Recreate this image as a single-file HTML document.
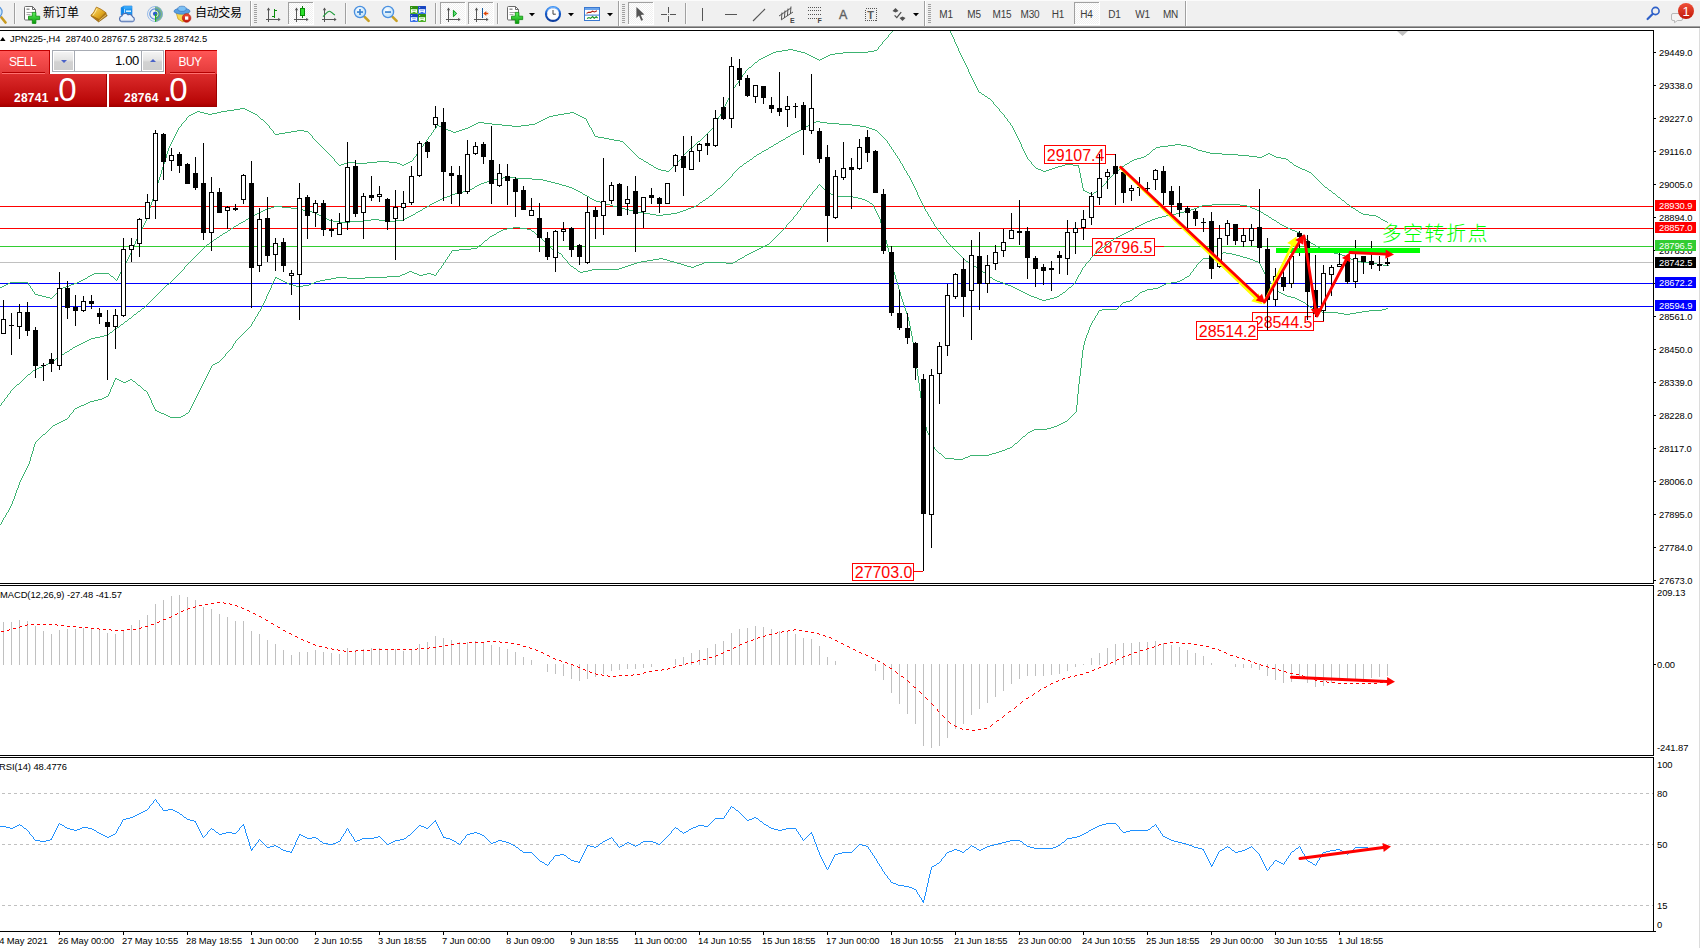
<!DOCTYPE html>
<html lang="zh"><head><meta charset="utf-8"><title>JPN225-,H4</title>
<style>
html,body{margin:0;padding:0;background:#fff;}
body{width:1700px;height:948px;overflow:hidden;position:relative;font-family:"Liberation Sans", "Noto Sans CJK SC", sans-serif;}
#chart{position:absolute;left:0;top:0;}
#tb{position:absolute;left:0;top:0;width:1700px;height:26px;background:#f0f0f0;border-bottom:1px solid #a0a0a0;box-shadow:0 1px 0 #696969;}
#tb svg{position:absolute;left:0;top:0;}
#winedge{position:absolute;left:1699px;top:28px;width:1px;height:920px;background:#dcdcdc;}
</style></head><body>
<svg id="chart" width="1700" height="948" viewBox="0 0 1700 948" font-family='"Liberation Sans", "Noto Sans CJK SC", sans-serif'><g shape-rendering="crispEdges">
<rect x="0" y="206" width="1653" height="1" fill="#ff0000"/>
<rect x="0" y="228" width="1653" height="1" fill="#ff0000"/>
<rect x="0" y="246" width="1653" height="1" fill="#32cd32"/>
<rect x="0" y="262" width="1653" height="1" fill="#c0c0c0"/>
<rect x="0" y="283" width="1653" height="1" fill="#0000ff"/>
<rect x="0" y="306" width="1653" height="1" fill="#0000ff"/>
</g>
<rect x="1044.5" y="145.5" width="61" height="18" fill="#fff" stroke="#ff0000" stroke-width="1" shape-rendering="crispEdges"/>
<text x="1046.8" y="160.6" font-size="16" fill="#ff0000" textLength="57.6" lengthAdjust="spacing">29107.4</text>
<rect x="1106" y="154" width="9" height="1" fill="#ff0000" shape-rendering="crispEdges"/>
<rect x="1092.5" y="238.5" width="62" height="17" fill="#fff" stroke="#ff0000" stroke-width="1" shape-rendering="crispEdges"/>
<text x="1094.8" y="252.6" font-size="16" fill="#ff0000" textLength="57.6" lengthAdjust="spacing">28796.5</text>
<rect x="1154" y="246" width="10" height="1" fill="#ff0000" shape-rendering="crispEdges"/>
<rect x="1252.5" y="312.5" width="61" height="18" fill="#fff" stroke="#ff0000" stroke-width="1" shape-rendering="crispEdges"/>
<text x="1254.8" y="327.6" font-size="16" fill="#ff0000" textLength="57.6" lengthAdjust="spacing">28544.5</text>
<rect x="1314" y="321" width="10" height="1" fill="#ff0000" shape-rendering="crispEdges"/>
<rect x="1196.5" y="321.5" width="61" height="18" fill="#fff" stroke="#ff0000" stroke-width="1" shape-rendering="crispEdges"/>
<text x="1198.8" y="336.6" font-size="16" fill="#ff0000" textLength="57.6" lengthAdjust="spacing">28514.2</text>
<rect x="852.5" y="563.5" width="61" height="17" fill="#fff" stroke="#ff0000" stroke-width="1" shape-rendering="crispEdges"/>
<text x="854.8" y="577.6" font-size="16" fill="#ff0000" textLength="57.6" lengthAdjust="spacing">27703.0</text>
<rect x="914" y="571" width="9" height="1" fill="#ff0000" shape-rendering="crispEdges"/>
<clipPath id="cpMain"><rect x="0" y="31" width="1653" height="552"/></clipPath>
<g shape-rendering="crispEdges" clip-path="url(#cpMain)">
<path d="M0 287.5h2M2 286.5h2M4 285.5h2M6 284.5h2M8 283.5h2M10 282.5h18M28.5 283v2M29 285.5h1M30.5 286v2M31 288.5h1M32.5 289v2M33 291.5h1M34.5 292v2M35 294.5h3M38 295.5h4M42 296.5h4M46 297.5h4M50 298.5h2M52 297.5h1M53 296.5h1M54 295.5h1M55 294.5h1M56 293.5h1M57 292.5h1M58 291.5h1M59 290.5h1M60 289.5h1M61 288.5h2M63 287.5h3M66 286.5h3M69 285.5h2M71 284.5h3M74 283.5h3M77 282.5h2M79 281.5h2M81 280.5h2M83 279.5h2M85 278.5h2M87 277.5h1M88 276.5h2M90 275.5h2M92 274.5h2M94 273.5h15M109 274.5h1M110 275.5h1M111 276.5h2M113 277.5h1M114 278.5h1M115 279.5h1M116 280.5h1M117.5 278v2M118.5 276v2M119.5 274v2M120.5 272v2M121.5 270v2M122 269.5h1M123.5 267v2M124.5 265v2M125.5 263v2M126.5 261v2M127.5 259v2M128.5 257v2M129.5 255v2M130.5 253v2M131.5 250v3M132.5 248v2M133.5 246v2M134.5 244v2M135.5 241v3M136.5 239v2M137.5 237v2M138.5 235v2M139.5 233v2M140.5 231v2M141.5 229v2M142.5 227v2M143.5 225v2M144.5 223v2M145.5 221v2M146.5 218v3M147.5 215v3M148.5 211v4M149.5 208v3M150.5 205v3M151.5 202v3M152.5 199v3M153.5 196v3M154.5 193v3M155.5 189v4M156.5 186v3M157.5 183v3M158.5 180v3M159.5 177v3M160.5 174v3M161.5 170v4M162.5 167v3M163.5 164v3M164.5 161v3M165.5 158v3M166.5 154v4M167.5 151v3M168.5 148v3M169.5 146v2M170.5 144v2M171.5 142v2M172.5 140v2M173.5 138v2M174.5 136v2M175.5 134v2M176.5 132v2M177.5 130v2M178.5 128v2M179 127.5h1M180 126.5h1M181.5 124v2M182 123.5h1M183 122.5h1M184 121.5h1M185 120.5h1M186.5 118v2M187 117.5h1M188 116.5h1M189 115.5h2M191 114.5h2M193 113.5h2M195 112.5h2M197 111.5h3M200 112.5h4M204 113.5h4M208 114.5h4M212 113.5h5M217 112.5h4M221 111.5h6M227 110.5h7M234 109.5h6M240 108.5h5M245 109.5h2M247 110.5h2M249 111.5h2M251 112.5h2M253 113.5h2M255 114.5h2M257 115.5h1M258 116.5h1M259 117.5h1M260 118.5h1M261 119.5h2M263 120.5h1M264 121.5h1M265 122.5h1M266 123.5h1M267 124.5h1M268 125.5h1M269.5 126v2M270 128.5h1M271 129.5h1M272 130.5h1M273.5 131v2M274 133.5h1M275 134.5h4M279 133.5h6M285 132.5h6M291 131.5h6M297 130.5h7M304 131.5h4M308 132.5h1M309 133.5h1M310 134.5h1M311 135.5h1M312.5 136v2M313 138.5h1M314 139.5h1M315 140.5h1M316 141.5h1M317 142.5h1M318 143.5h1M319 144.5h1M320 145.5h1M321 146.5h1M322 147.5h1M323 148.5h1M324 149.5h1M325 150.5h1M326 151.5h1M327 152.5h1M328 153.5h1M329 154.5h1M330 155.5h1M331 156.5h1M332 157.5h1M333 158.5h1M334.5 159v2M335 161.5h1M336 162.5h1M337 163.5h1M338 164.5h1M339 165.5h2M341 164.5h3M344 163.5h3M347 162.5h8M355 163.5h12M367 162.5h10M377 161.5h12M389 162.5h8M397 163.5h3M400 164.5h2M402 165.5h2M404 164.5h2M406 163.5h2M408 162.5h2M410 161.5h2M412 160.5h1M413.5 158v2M414 157.5h1M415 156.5h1M416.5 154v2M417 153.5h1M418.5 151v2M419 150.5h1M420 149.5h1M421.5 147v2M422 146.5h1M423.5 144v2M424 143.5h1M425 142.5h1M426.5 140v2M427 139.5h1M428.5 137v2M429 136.5h1M430 135.5h1M431.5 133v2M432 132.5h1M433.5 130v2M434 129.5h1M435 128.5h1M436.5 126v2M437 125.5h2M439 126.5h2M441 127.5h2M443 128.5h2M445 129.5h3M448 130.5h3M451 131.5h2M453 132.5h3M456 131.5h3M459 130.5h3M462 129.5h3M465 128.5h3M468 127.5h2M470 126.5h2M472 125.5h2M474 124.5h2M476 123.5h2M478 122.5h6M484 123.5h8M492 124.5h10M502 125.5h10M512 126.5h9M521 125.5h8M529 124.5h6M535 123.5h2M537 122.5h2M539 121.5h2M541 120.5h2M543 119.5h2M545 118.5h2M547 117.5h2M549 116.5h4M553 115.5h5M558 114.5h6M564 113.5h6M570 112.5h4M574 113.5h2M576 114.5h2M578 115.5h2M580 116.5h2M582 117.5h2M584 118.5h2M586.5 119v2M587.5 121v2M588.5 123v2M589.5 125v2M590 127.5h1M591.5 128v2M592.5 130v2M593.5 132v2M594.5 134v2M595 136.5h3M598 137.5h6M604 138.5h5M609 139.5h5M614 140.5h6M620 141.5h3M623 142.5h1M624 143.5h1M625 144.5h1M626 145.5h1M627 146.5h1M628 147.5h1M629 148.5h1M630 149.5h1M631 150.5h1M632 151.5h1M633 152.5h1M634 153.5h1M635 154.5h1M636 155.5h1M637 156.5h1M638 157.5h1M639 158.5h2M641 159.5h2M643 160.5h1M644 161.5h2M646 162.5h2M648 163.5h1M649 164.5h2M651 165.5h2M653 166.5h1M654 167.5h2M656 168.5h2M658 169.5h3M661 170.5h5M666 171.5h3M669 170.5h1M670 169.5h1M671 168.5h1M672 167.5h1M673 166.5h1M674 165.5h1M675 164.5h1M676 163.5h1M677 162.5h1M678 161.5h1M679 160.5h1M680 159.5h1M681 158.5h1M682.5 156v2M683 155.5h1M684 154.5h1M685 153.5h1M686 152.5h1M687 151.5h1M688 150.5h1M689 149.5h1M690 148.5h1M691 147.5h2M693 146.5h1M694 145.5h1M695 144.5h1M696 143.5h1M697 142.5h1M698 141.5h2M700 140.5h1M701 139.5h1M702 138.5h1M703 137.5h1M704 136.5h1M705 135.5h1M706 134.5h1M707 133.5h1M708 132.5h1M709 131.5h1M710 130.5h1M711 129.5h1M712 128.5h1M713.5 126v2M714.5 124v2M715 123.5h1M716.5 121v2M717.5 119v2M718.5 117v2M719 116.5h1M720.5 114v2M721.5 112v2M722.5 110v2M723.5 108v2M724.5 106v2M725.5 104v2M726.5 102v2M727.5 100v2M728.5 98v2M729.5 96v2M730.5 94v2M731.5 92v2M732.5 90v2M733.5 88v2M734 87.5h1M735.5 85v2M736 84.5h1M737 83.5h1M738.5 81v2M739 80.5h1M740.5 78v2M741 77.5h1M742.5 75v2M743 74.5h1M744 73.5h1M745.5 71v2M746 70.5h1M747 69.5h1M748 68.5h1M749 67.5h2M751 66.5h1M752 65.5h1M753 64.5h1M754 63.5h1M755 62.5h2M757 61.5h1M758 60.5h1M759 59.5h2M761 58.5h2M763 57.5h2M765 56.5h2M767 55.5h2M769 54.5h2M771 53.5h2M773 52.5h3M776 51.5h6M782 50.5h6M788 49.5h5M793 50.5h4M797 51.5h4M801 52.5h4M805 53.5h2M807 54.5h2M809 55.5h2M811 56.5h2M813 57.5h2M815 58.5h2M817 59.5h2M819 60.5h1M820 59.5h2M822 58.5h2M824 57.5h2M826 56.5h2M828 55.5h2M830 54.5h5M835 53.5h8M843 52.5h25M868 51.5h6M874 50.5h3M877 49.5h1M878.5 47v2M879 46.5h1M880 45.5h1M881 44.5h1M882.5 42v2M883 41.5h1M884 40.5h1M885 39.5h1M886 38.5h1M887 37.5h1M888.5 35v2M889 34.5h1M890 33.5h1M891 32.5h1M892 31.5h1M893 30.5h1M894 29.5h1M895 28.5h1M896 27.5h1M897 26.5h1M898 25.5h1M945.5 20v2M946.5 22v2M947.5 24v2M948.5 26v2M949.5 28v2M950.5 30v3M951.5 33v2M952.5 35v2M953.5 37v2M954.5 39v3M955.5 42v2M956.5 44v2M957.5 46v2M958.5 48v3M959.5 51v2M960.5 53v2M961.5 55v2M962.5 57v2M963.5 59v2M964.5 61v2M965.5 63v2M966.5 65v2M967.5 67v2M968.5 69v3M969.5 72v2M970.5 74v2M971.5 76v2M972.5 78v2M973.5 80v2M974.5 82v2M975.5 84v2M976.5 86v2M977.5 88v2M978.5 90v2M979 92.5h2M981 93.5h1M982 94.5h2M984 95.5h1M985 96.5h2M987 97.5h1M988 98.5h2M990 99.5h1M991 100.5h1M992 101.5h1M993.5 102v2M994 104.5h1M995 105.5h1M996 106.5h1M997 107.5h1M998 108.5h1M999.5 109v2M1000 111.5h1M1001 112.5h1M1002 113.5h1M1003 114.5h1M1004.5 115v2M1005 117.5h1M1006 118.5h1M1007.5 119v2M1008 121.5h1M1009 122.5h1M1010.5 123v2M1011 125.5h1M1012.5 126v2M1013.5 128v2M1014.5 130v2M1015.5 132v2M1016.5 134v2M1017.5 136v2M1018.5 138v2M1019.5 140v2M1020.5 142v2M1021.5 144v3M1022.5 147v2M1023.5 149v2M1024.5 151v2M1025.5 153v2M1026.5 155v2M1027.5 157v2M1028 159.5h1M1029 160.5h1M1030 161.5h1M1031.5 162v2M1032 164.5h1M1033 165.5h1M1034 166.5h1M1035 167.5h1M1036 168.5h2M1038 169.5h3M1041 170.5h2M1043 171.5h3M1046 170.5h3M1049 169.5h3M1052 168.5h3M1055 167.5h3M1058 166.5h4M1062 165.5h3M1065 164.5h8M1073 165.5h6M1078.5 166v2M1079.5 168v5M1080.5 173v5M1081.5 178v5M1082.5 183v5M1083.5 188v3M1084 190.5h1M1085 191.5h2M1087 192.5h2M1089 193.5h2M1091 194.5h2M1093 193.5h1M1094 192.5h2M1096 191.5h1M1097 190.5h1M1098 189.5h1M1099 188.5h2M1101 187.5h1M1102 186.5h1M1103 185.5h1M1104 184.5h1M1105 183.5h1M1106.5 181v2M1107 180.5h1M1108 179.5h1M1109 178.5h1M1110 177.5h1M1111 176.5h1M1112 175.5h1M1113 174.5h1M1114 173.5h1M1115 172.5h2M1117 171.5h1M1118 170.5h1M1119 169.5h1M1120 168.5h1M1121 167.5h1M1122 166.5h2M1124 165.5h1M1125 164.5h2M1127 163.5h2M1129 162.5h1M1130 161.5h2M1132 160.5h2M1134 159.5h3M1137 158.5h4M1141 157.5h3M1144 156.5h2M1146 155.5h1M1147 154.5h2M1149 153.5h1M1150 152.5h1M1151 151.5h1M1152 150.5h1M1153 149.5h2M1155 148.5h1M1156 147.5h4M1160 146.5h8M1168 145.5h7M1175 144.5h6M1181 145.5h6M1187 146.5h4M1191 147.5h2M1193 148.5h3M1196 149.5h2M1198 150.5h4M1202 151.5h4M1206 152.5h4M1210 153.5h12M1222 154.5h16M1238 155.5h11M1249 156.5h8M1257 157.5h5M1262 156.5h2M1264 155.5h2M1266 154.5h2M1268 153.5h2M1270 154.5h2M1272 155.5h2M1274 156.5h2M1276 157.5h5M1281 158.5h5M1286 159.5h2M1288 160.5h1M1289 161.5h1M1290 162.5h2M1292 163.5h1M1293 164.5h1M1294 165.5h2M1296 166.5h2M1298 167.5h2M1300 168.5h2M1302 169.5h3M1305 170.5h2M1307 171.5h2M1309 172.5h2M1311 173.5h1M1312 174.5h1M1313 175.5h1M1314 176.5h1M1315 177.5h1M1316 178.5h1M1317 179.5h1M1318 180.5h1M1319 181.5h1M1320 182.5h1M1321 183.5h1M1322 184.5h1M1323 185.5h1M1324 186.5h1M1325 187.5h2M1327 188.5h1M1328 189.5h1M1329 190.5h2M1331 191.5h1M1332 192.5h1M1333 193.5h2M1335 194.5h1M1336 195.5h1M1337 196.5h1M1338 197.5h2M1340 198.5h1M1341 199.5h1M1342 200.5h2M1344 201.5h1M1345 202.5h1M1346 203.5h1M1347 204.5h2M1349 205.5h1M1350 206.5h1M1351 207.5h2M1353 208.5h2M1355 209.5h1M1356 210.5h2M1358 211.5h1M1359 212.5h2M1361 213.5h2M1363 214.5h6M1369 215.5h7M1376 216.5h2M1378 217.5h2M1380 218.5h1M1381 219.5h2M1383 220.5h2M1385 221.5h2M1387 222.5h1" fill="none" stroke="#3cb371" stroke-width="1" />
<path d="M0 405.5h1M1.5 403v2M2 402.5h1M3 401.5h1M4.5 399v2M5 398.5h1M6 397.5h1M7.5 395v2M8 394.5h1M9 393.5h1M10.5 391v2M11 390.5h1M12 389.5h1M13 388.5h1M14 387.5h1M15 386.5h1M16 385.5h1M17 384.5h2M19 383.5h1M20 382.5h1M21 381.5h1M22 380.5h1M23 379.5h1M24 378.5h1M25 377.5h1M26 376.5h1M27 375.5h1M28 374.5h2M30 373.5h1M31 372.5h1M32 371.5h1M33 370.5h2M35 369.5h2M37 368.5h2M39 367.5h3M42 366.5h2M44 365.5h2M46 364.5h2M48 363.5h2M50 362.5h1M51 361.5h2M53 360.5h2M55 359.5h1M56 358.5h2M58 357.5h1M59 356.5h2M61 355.5h1M62 354.5h2M64 353.5h1M65 352.5h2M67 351.5h2M69 350.5h1M70 349.5h2M72 348.5h1M73 347.5h2M75 346.5h2M77 345.5h2M79 344.5h2M81 343.5h2M83 342.5h2M85 341.5h2M87 340.5h2M89 339.5h2M91 338.5h4M95 337.5h5M100 336.5h4M104 335.5h3M107 334.5h2M109 333.5h1M110 332.5h2M112 331.5h1M113 330.5h1M114 329.5h2M116 328.5h1M117 327.5h2M119 326.5h1M120 325.5h1M121 324.5h2M123 323.5h1M124 322.5h1M125 321.5h2M127 320.5h1M128 319.5h1M129 318.5h2M131 317.5h1M132 316.5h1M133 315.5h1M134 314.5h2M136 313.5h1M137 312.5h1M138 311.5h2M140 310.5h1M141 309.5h1M142 308.5h2M144 307.5h1M145 306.5h1M146 305.5h1M147 304.5h1M148 303.5h1M149 302.5h1M150 301.5h1M151 300.5h1M152 299.5h1M153 298.5h1M154 297.5h1M155 296.5h1M156 295.5h1M157 294.5h1M158 293.5h1M159 292.5h1M160 291.5h1M161 290.5h1M162 289.5h1M163 288.5h1M164 287.5h1M165 286.5h1M166 285.5h1M167 284.5h2M169 283.5h1M170 282.5h1M171 281.5h1M172 280.5h1M173 279.5h1M174 278.5h1M175 277.5h1M176 276.5h1M177 275.5h1M178 274.5h1M179 273.5h1M180 272.5h1M181 271.5h1M182 270.5h1M183 269.5h1M184.5 267v2M185 266.5h1M186 265.5h1M187 264.5h1M188 263.5h1M189 262.5h1M190 261.5h1M191 260.5h1M192 259.5h1M193 258.5h1M194 257.5h1M195 256.5h1M196 255.5h1M197 254.5h1M198 253.5h1M199 252.5h1M200 251.5h1M201 250.5h1M202 249.5h1M203 248.5h1M204 247.5h1M205 246.5h1M206 245.5h1M207 244.5h2M209 243.5h1M210 242.5h2M212 241.5h1M213 240.5h1M214 239.5h2M216 238.5h1M217 237.5h2M219 236.5h1M220 235.5h2M222 234.5h1M223 233.5h2M225 232.5h2M227 231.5h1M228 230.5h2M230 229.5h1M231 228.5h2M233 227.5h1M234 226.5h2M236 225.5h2M238 224.5h1M239 223.5h2M241 222.5h2M243 221.5h2M245 220.5h1M246 219.5h2M248 218.5h2M250 217.5h1M251 216.5h2M253 215.5h2M255 214.5h2M257 213.5h2M259 212.5h2M261 211.5h2M263 210.5h2M265 209.5h3M268 208.5h3M271 207.5h3M274 206.5h8M282 207.5h9M291 208.5h6M297 209.5h6M303 210.5h5M308 211.5h4M312 212.5h3M315 213.5h2M317 214.5h2M319 215.5h2M321 216.5h2M323 217.5h2M325 218.5h2M327 219.5h2M329 220.5h4M333 221.5h6M339 222.5h11M350 221.5h13M363 220.5h8M371 219.5h8M379 220.5h6M385 221.5h11M396 220.5h7M403 219.5h2M405 218.5h2M407 217.5h2M409 216.5h2M411 215.5h2M413 214.5h2M415 213.5h1M416 212.5h2M418 211.5h2M420 210.5h2M422 209.5h1M423 208.5h2M425 207.5h2M427 206.5h2M429 205.5h1M430 204.5h2M432 203.5h2M434 202.5h2M436 201.5h2M438 200.5h2M440 199.5h2M442 198.5h2M444 197.5h3M447 196.5h3M450 195.5h2M452 194.5h3M455 193.5h4M459 192.5h4M463 191.5h4M467 190.5h3M470 189.5h2M472 188.5h2M474 187.5h1M475 186.5h2M477 185.5h2M479 184.5h2M481 183.5h3M484 182.5h3M487 181.5h2M489 180.5h3M492 179.5h5M497 178.5h6M503 177.5h12M515 178.5h17M532 179.5h11M543 180.5h4M547 181.5h4M551 182.5h4M555 183.5h4M559 184.5h3M562 185.5h4M566 186.5h3M569 187.5h3M572 188.5h2M574 189.5h2M576 190.5h2M578 191.5h2M580 192.5h2M582 193.5h1M583 194.5h2M585 195.5h2M587 196.5h2M589 197.5h1M590 198.5h2M592 199.5h2M594 200.5h2M596 201.5h4M600 202.5h3M603 203.5h3M606 204.5h4M610 205.5h3M613 206.5h4M617 207.5h4M621 208.5h4M625 209.5h4M629 210.5h4M633 211.5h5M638 212.5h6M644 213.5h6M650 214.5h6M656 215.5h7M663 214.5h8M671 213.5h6M677 212.5h3M680 211.5h3M683 210.5h3M686 209.5h2M688 208.5h3M691 207.5h3M694 206.5h2M696 205.5h2M698 204.5h1M699 203.5h1M700 202.5h2M702 201.5h1M703 200.5h2M705 199.5h1M706 198.5h2M708 197.5h1M709 196.5h1M710 195.5h2M712 194.5h1M713 193.5h1M714 192.5h1M715 191.5h1M716 190.5h1M717 189.5h1M718 188.5h2M720 187.5h1M721 186.5h1M722 185.5h1M723 184.5h1M724 183.5h1M725 182.5h1M726 181.5h1M727 180.5h1M728 179.5h1M729 178.5h1M730 177.5h1M731 176.5h1M732.5 174v2M733 173.5h1M734 172.5h1M735 171.5h1M736 170.5h1M737 169.5h1M738 168.5h1M739 167.5h1M740 166.5h2M742 165.5h1M743 164.5h1M744 163.5h2M746 162.5h1M747 161.5h2M749 160.5h1M750 159.5h2M752 158.5h1M753 157.5h1M754 156.5h2M756 155.5h1M757 154.5h2M759 153.5h2M761 152.5h1M762 151.5h2M764 150.5h2M766 149.5h2M768 148.5h1M769 147.5h2M771 146.5h2M773 145.5h1M774 144.5h2M776 143.5h2M778 142.5h1M779 141.5h2M781 140.5h2M783 139.5h2M785 138.5h1M786 137.5h2M788 136.5h2M790 135.5h1M791 134.5h2M793 133.5h2M795 132.5h2M797 131.5h2M799 130.5h2M801 129.5h2M803 128.5h1M804 127.5h2M806 126.5h2M808 125.5h2M810 124.5h2M812 123.5h2M814 122.5h2M816 121.5h4M820 122.5h7M827 123.5h12M839 124.5h13M852 125.5h8M860 126.5h6M866 127.5h3M869 128.5h3M872 129.5h3M875 130.5h2M877 131.5h1M878 132.5h1M879 133.5h1M880 134.5h1M881 135.5h1M882 136.5h1M883 137.5h1M884 138.5h1M885 139.5h1M886 140.5h1M887.5 141v2M888 143.5h1M889.5 144v2M890 146.5h1M891.5 147v2M892 149.5h1M893.5 150v2M894 152.5h1M895.5 153v2M896 155.5h1M897.5 156v2M898 158.5h1M899.5 159v2M900.5 161v2M901 163.5h1M902.5 164v2M903.5 166v2M904.5 168v2M905 170.5h1M906.5 171v2M907.5 173v2M908 175.5h1M909.5 176v2M910.5 178v2M911.5 180v2M912.5 182v2M913.5 184v2M914.5 186v2M915.5 188v2M916.5 190v2M917.5 192v3M918.5 195v2M919.5 197v2M920.5 199v2M921.5 201v2M922.5 203v2M923.5 205v2M924.5 207v2M925.5 209v2M926 211.5h1M927.5 212v2M928.5 214v2M929 216.5h1M930.5 217v2M931.5 219v2M932 221.5h1M933.5 222v2M934.5 224v2M935 226.5h1M936 227.5h1M937.5 228v2M938 230.5h1M939 231.5h1M940.5 232v2M941 234.5h1M942 235.5h1M943.5 236v2M944 238.5h1M945 239.5h1M946.5 240v2M947 242.5h1M948 243.5h1M949 244.5h1M950 245.5h1M951 246.5h1M952 247.5h1M953 248.5h1M954 249.5h1M955 250.5h1M956 251.5h1M957 252.5h1M958 253.5h1M959 254.5h1M960 255.5h1M961 256.5h1M962 257.5h1M963 258.5h1M964 259.5h1M965 260.5h1M966 261.5h2M968 262.5h1M969 263.5h2M971 264.5h1M972 265.5h2M974 266.5h2M976 267.5h1M977 268.5h2M979 269.5h1M980 270.5h2M982 271.5h1M983 272.5h2M985 273.5h1M986 274.5h2M988 275.5h1M989 276.5h1M990 277.5h2M992 278.5h1M993 279.5h2M995 280.5h2M997 281.5h3M1000 282.5h3M1003 283.5h2M1005 284.5h3M1008 285.5h3M1011 286.5h2M1013 287.5h2M1015 288.5h2M1017 289.5h2M1019 290.5h2M1021 291.5h2M1023 292.5h2M1025 293.5h2M1027 294.5h2M1029 295.5h2M1031 296.5h3M1034 297.5h3M1037 298.5h2M1039 299.5h3M1042 300.5h4M1046 299.5h4M1050 298.5h4M1054 297.5h3M1057 296.5h2M1059 295.5h1M1060 294.5h2M1062 293.5h1M1063 292.5h2M1065 291.5h1M1066 290.5h1M1067 289.5h1M1068 288.5h1M1069 287.5h2M1071 286.5h1M1072 285.5h1M1073 284.5h1M1074 283.5h1M1075.5 281v2M1076.5 279v2M1077.5 277v2M1078.5 275v2M1079 274.5h1M1080.5 272v2M1081.5 270v2M1082.5 268v2M1083 267.5h1M1084 266.5h1M1085.5 264v2M1086 263.5h1M1087 262.5h1M1088 261.5h1M1089 260.5h1M1090.5 258v2M1091 257.5h1M1092 256.5h1M1093 255.5h1M1094 254.5h1M1095 253.5h2M1097 252.5h1M1098 251.5h1M1099 250.5h1M1100 249.5h1M1101 248.5h1M1102 247.5h2M1104 246.5h1M1105 245.5h1M1106 244.5h2M1108 243.5h1M1109 242.5h1M1110 241.5h1M1111 240.5h2M1113 239.5h1M1114 238.5h2M1116 237.5h2M1118 236.5h2M1120 235.5h2M1122 234.5h2M1124 233.5h2M1126 232.5h2M1128 231.5h2M1130 230.5h2M1132 229.5h2M1134 228.5h1M1135 227.5h2M1137 226.5h2M1139 225.5h2M1141 224.5h2M1143 223.5h2M1145 222.5h2M1147 221.5h3M1150 220.5h2M1152 219.5h3M1155 218.5h3M1158 217.5h4M1162 216.5h4M1166 215.5h4M1170 214.5h6M1176 213.5h4M1180 212.5h4M1184 211.5h4M1188 210.5h3M1191 209.5h3M1194 208.5h3M1197 207.5h2M1199 206.5h3M1202 205.5h10M1212 204.5h28M1240 205.5h7M1247 206.5h3M1250 207.5h2M1252 208.5h3M1255 209.5h2M1257 210.5h2M1259 211.5h2M1261 212.5h2M1263 213.5h1M1264 214.5h2M1266 215.5h2M1268 216.5h1M1269 217.5h2M1271 218.5h1M1272 219.5h2M1274 220.5h2M1276 221.5h1M1277 222.5h2M1279 223.5h1M1280 224.5h2M1282 225.5h2M1284 226.5h2M1286 227.5h2M1288 228.5h2M1290 229.5h2M1292 230.5h3M1295 231.5h2M1297 232.5h2M1299 233.5h1M1300 234.5h2M1302 235.5h1M1303 236.5h1M1304 237.5h1M1305 238.5h1M1306 239.5h2M1308 240.5h1M1309 241.5h1M1310 242.5h1M1311 243.5h2M1313 244.5h2M1315 245.5h1M1316 246.5h2M1318 247.5h2M1320 248.5h3M1323 249.5h3M1326 250.5h2M1328 251.5h3M1331 252.5h3M1334 253.5h4M1338 254.5h4M1342 255.5h3M1345 256.5h2M1347 257.5h2M1349 258.5h2M1351 259.5h2M1353 260.5h4M1357 261.5h4M1361 262.5h8M1369 263.5h8M1377 264.5h6M1383 265.5h6" fill="none" stroke="#3cb371" stroke-width="1" />
<path d="M0 524.5h1M1.5 522v2M2.5 520v2M3.5 518v2M4 517.5h1M5.5 515v2M6.5 513v2M7 512.5h1M8.5 510v2M9.5 508v2M10.5 506v2M11.5 504v2M12.5 501v3M13.5 499v2M14.5 496v3M15.5 493v3M16.5 490v3M17.5 488v2M18.5 485v3M19.5 482v3M20.5 480v2M21.5 478v2M22.5 476v2M23.5 474v2M24.5 472v2M25.5 470v2M26.5 468v2M27.5 466v2M28.5 464v2M29.5 461v3M30.5 457v4M31.5 454v3M32.5 451v3M33.5 447v4M34.5 444v3M35.5 442v2M36 441.5h1M37 440.5h1M38 439.5h1M39 438.5h1M40 437.5h1M41 436.5h1M42 435.5h1M43 434.5h2M45 433.5h1M46 432.5h1M47 431.5h1M48 430.5h1M49 429.5h1M50 428.5h1M51 427.5h1M52 426.5h1M53 425.5h2M55 424.5h2M57 423.5h2M59 422.5h2M61 421.5h2M63 420.5h2M65 419.5h2M67 418.5h1M68 417.5h1M69.5 415v2M70 414.5h1M71 413.5h1M72 412.5h1M73.5 410v2M74 409.5h1M75 408.5h2M77 407.5h2M79 406.5h2M81 405.5h3M84 404.5h2M86 403.5h2M88 402.5h2M90 401.5h4M94 400.5h4M98 399.5h4M102 398.5h2M104 397.5h2M106 396.5h2M108.5 394v2M109.5 392v2M110.5 389v3M111.5 387v2M112.5 385v2M113.5 382v3M114.5 380v2M115.5 378v2M116 378.5h1M117 379.5h2M119 380.5h2M121 381.5h2M123 382.5h3M126 381.5h2M128 380.5h2M130 379.5h2M132 380.5h1M133 381.5h2M135 382.5h1M136 383.5h1M137 384.5h1M138 385.5h2M140 386.5h1M141 387.5h1M142 388.5h1M143 389.5h1M144 390.5h2M146 391.5h1M147.5 392v2M148.5 394v2M149.5 396v2M150.5 398v2M151.5 400v3M152.5 403v2M153.5 405v2M154.5 407v2M155.5 409v2M156 410.5h1M157 411.5h2M159 412.5h2M161 413.5h3M164 414.5h2M166 415.5h2M168 416.5h2M170 417.5h11M181 416.5h2M183 415.5h2M185 414.5h1M186 413.5h2M188 412.5h1M189.5 410v2M190.5 408v2M191.5 406v2M192.5 404v2M193.5 402v2M194.5 400v2M195.5 398v2M196.5 396v2M197.5 394v2M198.5 392v2M199.5 390v2M200.5 388v2M201.5 386v2M202.5 384v2M203.5 382v2M204.5 380v2M205.5 378v2M206.5 376v2M207.5 374v2M208.5 372v2M209.5 370v2M210.5 368v2M211.5 366v2M212 365.5h1M213 364.5h2M215 363.5h2M217 362.5h2M219 361.5h1M220 360.5h1M221 359.5h1M222 358.5h1M223 357.5h1M224 356.5h1M225.5 354v2M226 353.5h1M227 352.5h1M228 351.5h1M229 350.5h1M230 349.5h1M231 348.5h1M232.5 346v2M233.5 344v2M234 343.5h1M235.5 341v2M236 340.5h1M237 339.5h1M238 338.5h1M239 337.5h1M240 336.5h1M241 335.5h1M242 334.5h1M243 333.5h1M244 332.5h1M245 331.5h1M246 330.5h1M247 329.5h1M248 328.5h1M249 327.5h1M250 326.5h1M251.5 324v2M252.5 322v2M253 321.5h1M254.5 319v2M255.5 317v2M256 316.5h1M257.5 314v2M258.5 312v2M259 311.5h1M260.5 309v2M261.5 307v2M262.5 305v2M263.5 303v2M264.5 301v2M265.5 299v2M266.5 296v3M267.5 294v2M268.5 292v2M269.5 290v2M270.5 288v2M271.5 285v3M272.5 283v2M273.5 281v2M274.5 279v2M275.5 277v2M276 277.5h1M277 278.5h2M279 279.5h2M281 280.5h2M283 281.5h2M285 282.5h2M287 283.5h2M289 284.5h4M293 285.5h3M296 286.5h7M303 285.5h6M309 284.5h2M311 283.5h3M314 282.5h2M316 281.5h4M320 280.5h5M325 279.5h6M331 278.5h5M336 277.5h11M347 278.5h18M365 277.5h22M387 276.5h13M400 275.5h2M402 274.5h3M405 273.5h2M407 272.5h2M409 271.5h3M412 272.5h2M414 273.5h3M417 274.5h2M419 275.5h4M423 274.5h4M427 273.5h4M431 274.5h3M434 275.5h2M436.5 273v2M437 272.5h1M438.5 270v2M439 269.5h1M440 268.5h1M441.5 266v2M442 265.5h1M443.5 263v2M444 262.5h1M445.5 260v2M446 259.5h1M447.5 257v2M448 256.5h1M449.5 254v2M450 253.5h1M451.5 251v2M452 250.5h7M459 249.5h12M471 248.5h6M477 247.5h1M478 246.5h1M479 245.5h2M481 244.5h1M482 243.5h1M483 242.5h1M484 241.5h1M485 240.5h2M487 239.5h1M488 238.5h1M489 237.5h1M490 236.5h2M492 235.5h2M494 234.5h2M496 233.5h1M497 232.5h2M499 231.5h2M501 230.5h2M503 229.5h4M507 228.5h6M513 227.5h7M520 228.5h7M527 229.5h4M531 230.5h1M532 231.5h2M534 232.5h1M535 233.5h1M536 234.5h1M537 235.5h2M539 236.5h1M540 237.5h1M541 238.5h1M542 239.5h1M543 240.5h1M544 241.5h1M545 242.5h1M546 243.5h1M547 244.5h1M548 245.5h1M549 246.5h1M550 247.5h1M551 248.5h1M552 249.5h1M553 250.5h2M555 251.5h2M557 252.5h2M559 253.5h2M561 254.5h1M562.5 255v2M563 257.5h1M564 258.5h1M565 259.5h1M566 260.5h1M567.5 261v2M568 263.5h1M569 264.5h1M570 265.5h1M571 266.5h2M573 267.5h1M574 268.5h2M576 269.5h1M577 270.5h1M578 271.5h2M580 272.5h3M583 271.5h5M588 270.5h4M592 269.5h27M619 268.5h3M622 267.5h3M625 266.5h3M628 265.5h3M631 264.5h3M634 263.5h3M637 262.5h4M641 261.5h6M647 260.5h6M653 259.5h6M659 258.5h4M663 259.5h4M667 260.5h3M670 261.5h4M674 262.5h3M677 263.5h4M681 264.5h3M684 265.5h3M687 266.5h4M691 267.5h3M694 266.5h2M696 265.5h3M699 264.5h3M702 263.5h2M704 262.5h22M726 263.5h7M733 262.5h2M735 261.5h2M737 260.5h1M738 259.5h2M740 258.5h2M742 257.5h2M744 256.5h1M745 255.5h2M747 254.5h2M749 253.5h2M751 252.5h2M753 251.5h2M755 250.5h2M757 249.5h2M759 248.5h2M761 247.5h2M763 246.5h2M765 245.5h2M767 244.5h2M769 243.5h1M770 242.5h1M771 241.5h1M772 240.5h1M773 239.5h1M774 238.5h1M775 237.5h1M776 236.5h1M777 235.5h1M778 234.5h1M779 233.5h1M780 232.5h1M781 231.5h1M782 230.5h1M783 229.5h1M784 228.5h1M785 227.5h1M786.5 225v2M787 224.5h1M788 223.5h1M789 222.5h1M790 221.5h1M791 220.5h1M792 219.5h1M793.5 217v2M794 216.5h1M795 215.5h1M796 214.5h1M797.5 212v2M798 211.5h1M799 210.5h1M800.5 208v2M801 207.5h1M802 206.5h1M803.5 204v2M804 203.5h1M805 202.5h1M806.5 200v2M807 199.5h1M808 198.5h1M809.5 196v2M810 195.5h1M811 194.5h1M812.5 192v2M813 191.5h1M814 190.5h1M815 189.5h1M816 188.5h1M817.5 186v2M818 185.5h1M819 184.5h1M820 185.5h1M821 186.5h1M822 187.5h1M823 188.5h1M824 189.5h1M825 190.5h1M826 191.5h1M827 192.5h2M829 193.5h2M831 194.5h3M834 195.5h2M836 196.5h17M853 197.5h5M858 198.5h4M862 199.5h3M865 200.5h2M867 201.5h2M869 202.5h1M870 203.5h2M872 204.5h1M873.5 205v2M874.5 207v2M875.5 209v2M876.5 211v2M877.5 213v2M878.5 215v2M879.5 217v2M880.5 219v4M881.5 223v3M882.5 226v4M883.5 230v3M884.5 233v3M885.5 236v4M886.5 240v4M887.5 244v4M888.5 248v4M889.5 252v4M890.5 256v4M891.5 260v4M892.5 264v4M893.5 268v4M894.5 272v3M895.5 275v4M896.5 279v3M897.5 282v3M898.5 285v4M899.5 289v3M900.5 292v4M901.5 296v3M902.5 299v3M903.5 302v3M904.5 305v3M905.5 308v3M906.5 311v3M907.5 314v3M908.5 317v4M909.5 321v5M910.5 326v5M911.5 331v5M912.5 336v6M913.5 342v7M914.5 349v7M915.5 356v6M916.5 362v7M917.5 369v7M918.5 376v7M919.5 383v8M920.5 391v7M921.5 398v6M922.5 404v6M923.5 410v6M924.5 416v5M925.5 421v6M926.5 427v4M927.5 431v2M928.5 433v2M929.5 435v3M930.5 438v2M931.5 440v3M932.5 443v2M933.5 445v2M934.5 447v2M935 449.5h1M936 450.5h1M937 451.5h1M938 452.5h1M939 453.5h2M941 454.5h1M942 455.5h1M943 456.5h1M944 457.5h1M945 458.5h9M954 459.5h9M963 458.5h2M965 457.5h3M968 456.5h2M970 455.5h19M989 454.5h3M992 453.5h4M996 452.5h3M999 451.5h3M1002 450.5h3M1005 449.5h2M1007 448.5h3M1010 447.5h2M1012 446.5h1M1013 445.5h1M1014 444.5h1M1015 443.5h2M1017 442.5h1M1018 441.5h1M1019 440.5h1M1020 439.5h1M1021 438.5h1M1022 437.5h1M1023 436.5h2M1025 435.5h1M1026 434.5h1M1027 433.5h1M1028 432.5h2M1030 431.5h2M1032 430.5h2M1034 429.5h13M1047 428.5h4M1051 427.5h3M1054 426.5h3M1057 425.5h2M1059 424.5h2M1061 423.5h2M1063 422.5h2M1065 421.5h2M1067 420.5h1M1068 419.5h1M1069 418.5h1M1070 417.5h1M1071 416.5h1M1072 415.5h1M1073 414.5h1M1074 413.5h1M1075 412.5h1M1076.5 405v7M1077.5 394v11M1078.5 384v10M1079.5 376v8M1080.5 368v8M1081.5 358v10M1082.5 350v8M1083.5 345v5M1084.5 341v4M1085.5 338v3M1086.5 335v3M1087.5 333v2M1088.5 330v3M1089.5 327v3M1090.5 325v2M1091.5 323v2M1092.5 321v2M1093 320.5h1M1094.5 318v2M1095.5 316v2M1096 315.5h1M1097.5 313v2M1098.5 311v2M1099 310.5h3M1102 309.5h15M1117 308.5h1M1118 307.5h1M1119 306.5h1M1120 305.5h1M1121 304.5h1M1122 303.5h1M1123 302.5h3M1126 301.5h4M1130 300.5h2M1132 299.5h1M1133 298.5h1M1134 297.5h1M1135 296.5h2M1137 295.5h1M1138 294.5h1M1139 293.5h1M1140 292.5h2M1142 291.5h3M1145 290.5h2M1147 289.5h6M1153 288.5h5M1158 287.5h2M1160 286.5h2M1162 285.5h2M1164 284.5h2M1166 283.5h5M1171 282.5h6M1177 281.5h3M1180 280.5h2M1182 279.5h2M1184 278.5h1M1185 277.5h2M1187 276.5h2M1189 275.5h1M1190.5 273v2M1191 272.5h1M1192 271.5h1M1193.5 269v2M1194 268.5h1M1195 267.5h1M1196.5 265v2M1197 264.5h1M1198 263.5h1M1199 262.5h1M1200 261.5h1M1201 260.5h1M1202 259.5h1M1203 258.5h10M1213 257.5h2M1215 256.5h2M1217 255.5h2M1219 254.5h2M1221 253.5h2M1223 252.5h3M1226 253.5h6M1232 254.5h4M1236 255.5h4M1240 256.5h3M1243 257.5h4M1247 258.5h3M1250 259.5h3M1253 260.5h2M1255 261.5h3M1258 262.5h2M1259 263.5h1M1260.5 264v2M1261.5 266v2M1262.5 268v2M1263.5 270v2M1264.5 272v2M1265.5 274v2M1266 276.5h1M1267.5 277v2M1268 279.5h1M1269 280.5h1M1270.5 281v2M1271 283.5h1M1272 284.5h1M1273 285.5h1M1274 286.5h1M1275.5 287v2M1276 289.5h1M1277 290.5h1M1278 291.5h1M1279 292.5h2M1281 293.5h2M1283 294.5h2M1285 295.5h2M1287 296.5h4M1291 297.5h4M1295 298.5h2M1297 299.5h2M1299 300.5h2M1301 301.5h2M1303 302.5h2M1305 303.5h1M1306 304.5h2M1308 305.5h1M1309 306.5h1M1310 307.5h2M1312 308.5h2M1314 309.5h3M1317 310.5h2M1319 311.5h3M1322 312.5h16M1338 313.5h6M1344 314.5h6M1350 313.5h6M1356 312.5h6M1362 311.5h7M1369 310.5h13M1382 309.5h4M1386 308.5h2" fill="none" stroke="#3cb371" stroke-width="1" />
</g>
<g shape-rendering="crispEdges">
<rect x="3" y="300" width="1" height="34" fill="#000"/>
<rect x="1" y="319" width="5" height="15" fill="#000"/>
<rect x="2" y="320" width="3" height="13" fill="#fff"/>
<rect x="11" y="313" width="1" height="42" fill="#000"/>
<rect x="9" y="325" width="5" height="1" fill="#000"/>
<rect x="19" y="304" width="1" height="35" fill="#000"/>
<rect x="17" y="312" width="5" height="15" fill="#000"/>
<rect x="18" y="313" width="3" height="13" fill="#fff"/>
<rect x="27" y="302" width="1" height="34" fill="#000"/>
<rect x="25" y="312" width="5" height="19" fill="#000"/>
<rect x="35" y="327" width="1" height="51" fill="#000"/>
<rect x="33" y="330" width="5" height="36" fill="#000"/>
<rect x="43" y="363" width="1" height="18" fill="#000"/>
<rect x="41" y="365" width="5" height="1" fill="#000"/>
<rect x="51" y="353" width="1" height="19" fill="#000"/>
<rect x="49" y="359" width="5" height="5" fill="#000"/>
<rect x="59" y="272" width="1" height="98" fill="#000"/>
<rect x="57" y="288" width="5" height="78" fill="#000"/>
<rect x="58" y="289" width="3" height="76" fill="#fff"/>
<rect x="67" y="281" width="1" height="38" fill="#000"/>
<rect x="65" y="288" width="5" height="20" fill="#000"/>
<rect x="75" y="295" width="1" height="31" fill="#000"/>
<rect x="73" y="307" width="5" height="4" fill="#000"/>
<rect x="83" y="296" width="1" height="16" fill="#000"/>
<rect x="81" y="301" width="5" height="10" fill="#000"/>
<rect x="82" y="302" width="3" height="8" fill="#fff"/>
<rect x="91" y="295" width="1" height="14" fill="#000"/>
<rect x="89" y="301" width="5" height="3" fill="#000"/>
<rect x="99" y="308" width="1" height="16" fill="#000"/>
<rect x="97" y="313" width="5" height="4" fill="#000"/>
<rect x="107" y="310" width="1" height="70" fill="#000"/>
<rect x="105" y="322" width="5" height="5" fill="#000"/>
<rect x="115" y="309" width="1" height="40" fill="#000"/>
<rect x="113" y="315" width="5" height="12" fill="#000"/>
<rect x="114" y="316" width="3" height="10" fill="#fff"/>
<rect x="123" y="238" width="1" height="79" fill="#000"/>
<rect x="121" y="249" width="5" height="67" fill="#000"/>
<rect x="122" y="250" width="3" height="65" fill="#fff"/>
<rect x="131" y="238" width="1" height="24" fill="#000"/>
<rect x="129" y="245" width="5" height="5" fill="#000"/>
<rect x="130" y="246" width="3" height="3" fill="#fff"/>
<rect x="139" y="218" width="1" height="39" fill="#000"/>
<rect x="137" y="219" width="5" height="25" fill="#000"/>
<rect x="138" y="220" width="3" height="23" fill="#fff"/>
<rect x="147" y="194" width="1" height="25" fill="#000"/>
<rect x="145" y="202" width="5" height="17" fill="#000"/>
<rect x="146" y="203" width="3" height="15" fill="#fff"/>
<rect x="155" y="130" width="1" height="89" fill="#000"/>
<rect x="153" y="133" width="5" height="68" fill="#000"/>
<rect x="154" y="134" width="3" height="66" fill="#fff"/>
<rect x="163" y="133" width="1" height="47" fill="#000"/>
<rect x="161" y="134" width="5" height="28" fill="#000"/>
<rect x="171" y="148" width="1" height="23" fill="#000"/>
<rect x="169" y="155" width="5" height="6" fill="#000"/>
<rect x="170" y="156" width="3" height="4" fill="#fff"/>
<rect x="179" y="152" width="1" height="21" fill="#000"/>
<rect x="177" y="154" width="5" height="12" fill="#000"/>
<rect x="187" y="163" width="1" height="21" fill="#000"/>
<rect x="185" y="164" width="5" height="20" fill="#000"/>
<rect x="195" y="157" width="1" height="33" fill="#000"/>
<rect x="193" y="173" width="5" height="15" fill="#000"/>
<rect x="203" y="143" width="1" height="97" fill="#000"/>
<rect x="201" y="183" width="5" height="50" fill="#000"/>
<rect x="211" y="177" width="1" height="74" fill="#000"/>
<rect x="209" y="192" width="5" height="41" fill="#000"/>
<rect x="210" y="193" width="3" height="39" fill="#fff"/>
<rect x="219" y="188" width="1" height="25" fill="#000"/>
<rect x="217" y="192" width="5" height="21" fill="#000"/>
<rect x="227" y="206" width="1" height="23" fill="#000"/>
<rect x="225" y="207" width="5" height="4" fill="#000"/>
<rect x="226" y="208" width="3" height="2" fill="#fff"/>
<rect x="235" y="204" width="1" height="7" fill="#000"/>
<rect x="233" y="208" width="5" height="2" fill="#000"/>
<rect x="243" y="174" width="1" height="30" fill="#000"/>
<rect x="241" y="175" width="5" height="25" fill="#000"/>
<rect x="242" y="176" width="3" height="23" fill="#fff"/>
<rect x="251" y="161" width="1" height="147" fill="#000"/>
<rect x="249" y="183" width="5" height="85" fill="#000"/>
<rect x="259" y="208" width="1" height="64" fill="#000"/>
<rect x="257" y="219" width="5" height="47" fill="#000"/>
<rect x="258" y="220" width="3" height="45" fill="#fff"/>
<rect x="267" y="197" width="1" height="65" fill="#000"/>
<rect x="265" y="218" width="5" height="38" fill="#000"/>
<rect x="275" y="238" width="1" height="33" fill="#000"/>
<rect x="273" y="243" width="5" height="12" fill="#000"/>
<rect x="274" y="244" width="3" height="10" fill="#fff"/>
<rect x="283" y="238" width="1" height="34" fill="#000"/>
<rect x="281" y="242" width="5" height="24" fill="#000"/>
<rect x="291" y="270" width="1" height="25" fill="#000"/>
<rect x="289" y="273" width="5" height="3" fill="#000"/>
<rect x="290" y="274" width="3" height="1" fill="#fff"/>
<rect x="299" y="183" width="1" height="137" fill="#000"/>
<rect x="297" y="198" width="5" height="77" fill="#000"/>
<rect x="298" y="199" width="3" height="75" fill="#fff"/>
<rect x="307" y="195" width="1" height="44" fill="#000"/>
<rect x="305" y="197" width="5" height="19" fill="#000"/>
<rect x="315" y="200" width="1" height="27" fill="#000"/>
<rect x="313" y="203" width="5" height="10" fill="#000"/>
<rect x="314" y="204" width="3" height="8" fill="#fff"/>
<rect x="323" y="200" width="1" height="36" fill="#000"/>
<rect x="321" y="203" width="5" height="27" fill="#000"/>
<rect x="331" y="219" width="1" height="18" fill="#000"/>
<rect x="329" y="229" width="5" height="2" fill="#000"/>
<rect x="339" y="213" width="1" height="22" fill="#000"/>
<rect x="337" y="223" width="5" height="12" fill="#000"/>
<rect x="338" y="224" width="3" height="10" fill="#fff"/>
<rect x="347" y="142" width="1" height="88" fill="#000"/>
<rect x="345" y="167" width="5" height="55" fill="#000"/>
<rect x="346" y="168" width="3" height="53" fill="#fff"/>
<rect x="355" y="160" width="1" height="57" fill="#000"/>
<rect x="353" y="166" width="5" height="48" fill="#000"/>
<rect x="363" y="193" width="1" height="46" fill="#000"/>
<rect x="361" y="196" width="5" height="17" fill="#000"/>
<rect x="362" y="197" width="3" height="15" fill="#fff"/>
<rect x="371" y="176" width="1" height="25" fill="#000"/>
<rect x="369" y="195" width="5" height="3" fill="#000"/>
<rect x="379" y="186" width="1" height="16" fill="#000"/>
<rect x="377" y="194" width="5" height="3" fill="#000"/>
<rect x="378" y="195" width="3" height="1" fill="#fff"/>
<rect x="387" y="198" width="1" height="32" fill="#000"/>
<rect x="385" y="199" width="5" height="23" fill="#000"/>
<rect x="395" y="190" width="1" height="70" fill="#000"/>
<rect x="393" y="207" width="5" height="12" fill="#000"/>
<rect x="394" y="208" width="3" height="10" fill="#fff"/>
<rect x="403" y="191" width="1" height="30" fill="#000"/>
<rect x="401" y="203" width="5" height="5" fill="#000"/>
<rect x="402" y="204" width="3" height="3" fill="#fff"/>
<rect x="411" y="166" width="1" height="39" fill="#000"/>
<rect x="409" y="176" width="5" height="27" fill="#000"/>
<rect x="410" y="177" width="3" height="25" fill="#fff"/>
<rect x="419" y="141" width="1" height="36" fill="#000"/>
<rect x="417" y="143" width="5" height="33" fill="#000"/>
<rect x="418" y="144" width="3" height="31" fill="#fff"/>
<rect x="427" y="141" width="1" height="17" fill="#000"/>
<rect x="425" y="142" width="5" height="10" fill="#000"/>
<rect x="435" y="106" width="1" height="22" fill="#000"/>
<rect x="433" y="117" width="5" height="8" fill="#000"/>
<rect x="434" y="118" width="3" height="6" fill="#fff"/>
<rect x="443" y="108" width="1" height="93" fill="#000"/>
<rect x="441" y="122" width="5" height="50" fill="#000"/>
<rect x="451" y="166" width="1" height="38" fill="#000"/>
<rect x="449" y="173" width="5" height="3" fill="#000"/>
<rect x="459" y="166" width="1" height="40" fill="#000"/>
<rect x="457" y="175" width="5" height="19" fill="#000"/>
<rect x="467" y="140" width="1" height="54" fill="#000"/>
<rect x="465" y="154" width="5" height="38" fill="#000"/>
<rect x="466" y="155" width="3" height="36" fill="#fff"/>
<rect x="475" y="142" width="1" height="13" fill="#000"/>
<rect x="473" y="146" width="5" height="8" fill="#000"/>
<rect x="474" y="147" width="3" height="6" fill="#fff"/>
<rect x="483" y="142" width="1" height="22" fill="#000"/>
<rect x="481" y="144" width="5" height="13" fill="#000"/>
<rect x="491" y="126" width="1" height="78" fill="#000"/>
<rect x="489" y="160" width="5" height="24" fill="#000"/>
<rect x="499" y="164" width="1" height="23" fill="#000"/>
<rect x="497" y="173" width="5" height="13" fill="#000"/>
<rect x="498" y="174" width="3" height="11" fill="#fff"/>
<rect x="507" y="164" width="1" height="41" fill="#000"/>
<rect x="505" y="176" width="5" height="5" fill="#000"/>
<rect x="515" y="177" width="1" height="40" fill="#000"/>
<rect x="513" y="179" width="5" height="13" fill="#000"/>
<rect x="523" y="186" width="1" height="24" fill="#000"/>
<rect x="521" y="190" width="5" height="20" fill="#000"/>
<rect x="531" y="198" width="1" height="18" fill="#000"/>
<rect x="529" y="210" width="5" height="6" fill="#000"/>
<rect x="530" y="211" width="3" height="4" fill="#fff"/>
<rect x="539" y="203" width="1" height="49" fill="#000"/>
<rect x="537" y="218" width="5" height="20" fill="#000"/>
<rect x="547" y="232" width="1" height="28" fill="#000"/>
<rect x="545" y="238" width="5" height="19" fill="#000"/>
<rect x="555" y="230" width="1" height="42" fill="#000"/>
<rect x="553" y="231" width="5" height="27" fill="#000"/>
<rect x="554" y="232" width="3" height="25" fill="#fff"/>
<rect x="563" y="222" width="1" height="19" fill="#000"/>
<rect x="561" y="229" width="5" height="3" fill="#000"/>
<rect x="562" y="230" width="3" height="1" fill="#fff"/>
<rect x="571" y="227" width="1" height="30" fill="#000"/>
<rect x="569" y="228" width="5" height="22" fill="#000"/>
<rect x="579" y="244" width="1" height="21" fill="#000"/>
<rect x="577" y="245" width="5" height="12" fill="#000"/>
<rect x="587" y="197" width="1" height="67" fill="#000"/>
<rect x="585" y="212" width="5" height="51" fill="#000"/>
<rect x="586" y="213" width="3" height="49" fill="#fff"/>
<rect x="595" y="207" width="1" height="32" fill="#000"/>
<rect x="593" y="210" width="5" height="7" fill="#000"/>
<rect x="603" y="158" width="1" height="77" fill="#000"/>
<rect x="601" y="201" width="5" height="15" fill="#000"/>
<rect x="602" y="202" width="3" height="13" fill="#fff"/>
<rect x="611" y="182" width="1" height="22" fill="#000"/>
<rect x="609" y="185" width="5" height="16" fill="#000"/>
<rect x="610" y="186" width="3" height="14" fill="#fff"/>
<rect x="619" y="183" width="1" height="33" fill="#000"/>
<rect x="617" y="184" width="5" height="32" fill="#000"/>
<rect x="627" y="186" width="1" height="29" fill="#000"/>
<rect x="625" y="199" width="5" height="5" fill="#000"/>
<rect x="626" y="200" width="3" height="3" fill="#fff"/>
<rect x="635" y="176" width="1" height="76" fill="#000"/>
<rect x="633" y="191" width="5" height="23" fill="#000"/>
<rect x="643" y="197" width="1" height="31" fill="#000"/>
<rect x="641" y="197" width="5" height="15" fill="#000"/>
<rect x="642" y="198" width="3" height="13" fill="#fff"/>
<rect x="651" y="188" width="1" height="16" fill="#000"/>
<rect x="649" y="195" width="5" height="3" fill="#000"/>
<rect x="659" y="197" width="1" height="16" fill="#000"/>
<rect x="657" y="198" width="5" height="6" fill="#000"/>
<rect x="667" y="183" width="1" height="21" fill="#000"/>
<rect x="665" y="183" width="5" height="21" fill="#000"/>
<rect x="666" y="184" width="3" height="19" fill="#fff"/>
<rect x="675" y="154" width="1" height="18" fill="#000"/>
<rect x="673" y="155" width="5" height="11" fill="#000"/>
<rect x="674" y="156" width="3" height="9" fill="#fff"/>
<rect x="683" y="136" width="1" height="60" fill="#000"/>
<rect x="681" y="156" width="5" height="12" fill="#000"/>
<rect x="691" y="136" width="1" height="34" fill="#000"/>
<rect x="689" y="151" width="5" height="19" fill="#000"/>
<rect x="690" y="152" width="3" height="17" fill="#fff"/>
<rect x="699" y="143" width="1" height="19" fill="#000"/>
<rect x="697" y="144" width="5" height="7" fill="#000"/>
<rect x="698" y="145" width="3" height="5" fill="#fff"/>
<rect x="707" y="134" width="1" height="21" fill="#000"/>
<rect x="705" y="143" width="5" height="3" fill="#000"/>
<rect x="715" y="110" width="1" height="37" fill="#000"/>
<rect x="713" y="118" width="5" height="28" fill="#000"/>
<rect x="714" y="119" width="3" height="26" fill="#fff"/>
<rect x="723" y="97" width="1" height="23" fill="#000"/>
<rect x="721" y="107" width="5" height="12" fill="#000"/>
<rect x="731" y="57" width="1" height="71" fill="#000"/>
<rect x="729" y="66" width="5" height="53" fill="#000"/>
<rect x="730" y="67" width="3" height="51" fill="#fff"/>
<rect x="739" y="59" width="1" height="27" fill="#000"/>
<rect x="737" y="68" width="5" height="12" fill="#000"/>
<rect x="747" y="75" width="1" height="22" fill="#000"/>
<rect x="745" y="78" width="5" height="18" fill="#000"/>
<rect x="755" y="85" width="1" height="18" fill="#000"/>
<rect x="753" y="85" width="5" height="12" fill="#000"/>
<rect x="754" y="86" width="3" height="10" fill="#fff"/>
<rect x="763" y="86" width="1" height="18" fill="#000"/>
<rect x="761" y="86" width="5" height="12" fill="#000"/>
<rect x="771" y="97" width="1" height="16" fill="#000"/>
<rect x="769" y="105" width="5" height="4" fill="#000"/>
<rect x="779" y="72" width="1" height="44" fill="#000"/>
<rect x="777" y="108" width="5" height="4" fill="#000"/>
<rect x="787" y="96" width="1" height="31" fill="#000"/>
<rect x="785" y="106" width="5" height="4" fill="#000"/>
<rect x="786" y="107" width="3" height="2" fill="#fff"/>
<rect x="795" y="103" width="1" height="15" fill="#000"/>
<rect x="793" y="106" width="5" height="1" fill="#000"/>
<rect x="803" y="102" width="1" height="53" fill="#000"/>
<rect x="801" y="105" width="5" height="25" fill="#000"/>
<rect x="811" y="74" width="1" height="60" fill="#000"/>
<rect x="809" y="108" width="5" height="23" fill="#000"/>
<rect x="810" y="109" width="3" height="21" fill="#fff"/>
<rect x="819" y="128" width="1" height="35" fill="#000"/>
<rect x="817" y="131" width="5" height="28" fill="#000"/>
<rect x="827" y="145" width="1" height="97" fill="#000"/>
<rect x="825" y="157" width="5" height="59" fill="#000"/>
<rect x="835" y="170" width="1" height="49" fill="#000"/>
<rect x="833" y="176" width="5" height="42" fill="#000"/>
<rect x="834" y="177" width="3" height="40" fill="#fff"/>
<rect x="843" y="142" width="1" height="38" fill="#000"/>
<rect x="841" y="168" width="5" height="10" fill="#000"/>
<rect x="842" y="169" width="3" height="8" fill="#fff"/>
<rect x="851" y="158" width="1" height="51" fill="#000"/>
<rect x="849" y="167" width="5" height="3" fill="#000"/>
<rect x="859" y="139" width="1" height="31" fill="#000"/>
<rect x="857" y="147" width="5" height="22" fill="#000"/>
<rect x="858" y="148" width="3" height="20" fill="#fff"/>
<rect x="867" y="130" width="1" height="32" fill="#000"/>
<rect x="865" y="137" width="5" height="16" fill="#000"/>
<rect x="875" y="150" width="1" height="43" fill="#000"/>
<rect x="873" y="151" width="5" height="42" fill="#000"/>
<rect x="883" y="189" width="1" height="65" fill="#000"/>
<rect x="881" y="194" width="5" height="57" fill="#000"/>
<rect x="891" y="246" width="1" height="70" fill="#000"/>
<rect x="889" y="252" width="5" height="61" fill="#000"/>
<rect x="899" y="290" width="1" height="40" fill="#000"/>
<rect x="897" y="313" width="5" height="15" fill="#000"/>
<rect x="907" y="313" width="1" height="31" fill="#000"/>
<rect x="905" y="328" width="5" height="10" fill="#000"/>
<rect x="915" y="342" width="1" height="38" fill="#000"/>
<rect x="913" y="343" width="5" height="25" fill="#000"/>
<rect x="923" y="374" width="1" height="197" fill="#000"/>
<rect x="921" y="379" width="5" height="135" fill="#000"/>
<rect x="931" y="369" width="1" height="179" fill="#000"/>
<rect x="929" y="375" width="5" height="140" fill="#000"/>
<rect x="930" y="376" width="3" height="138" fill="#fff"/>
<rect x="939" y="342" width="1" height="62" fill="#000"/>
<rect x="937" y="346" width="5" height="28" fill="#000"/>
<rect x="938" y="347" width="3" height="26" fill="#fff"/>
<rect x="947" y="284" width="1" height="72" fill="#000"/>
<rect x="945" y="295" width="5" height="51" fill="#000"/>
<rect x="946" y="296" width="3" height="49" fill="#fff"/>
<rect x="955" y="273" width="1" height="26" fill="#000"/>
<rect x="953" y="274" width="5" height="23" fill="#000"/>
<rect x="954" y="275" width="3" height="21" fill="#fff"/>
<rect x="963" y="258" width="1" height="59" fill="#000"/>
<rect x="961" y="269" width="5" height="28" fill="#000"/>
<rect x="971" y="240" width="1" height="100" fill="#000"/>
<rect x="969" y="255" width="5" height="36" fill="#000"/>
<rect x="970" y="256" width="3" height="34" fill="#fff"/>
<rect x="979" y="232" width="1" height="78" fill="#000"/>
<rect x="977" y="256" width="5" height="28" fill="#000"/>
<rect x="987" y="255" width="1" height="38" fill="#000"/>
<rect x="985" y="265" width="5" height="19" fill="#000"/>
<rect x="986" y="266" width="3" height="17" fill="#fff"/>
<rect x="995" y="245" width="1" height="25" fill="#000"/>
<rect x="993" y="252" width="5" height="12" fill="#000"/>
<rect x="994" y="253" width="3" height="10" fill="#fff"/>
<rect x="1003" y="229" width="1" height="28" fill="#000"/>
<rect x="1001" y="242" width="5" height="9" fill="#000"/>
<rect x="1002" y="243" width="3" height="7" fill="#fff"/>
<rect x="1011" y="213" width="1" height="26" fill="#000"/>
<rect x="1009" y="230" width="5" height="9" fill="#000"/>
<rect x="1010" y="231" width="3" height="7" fill="#fff"/>
<rect x="1019" y="200" width="1" height="45" fill="#000"/>
<rect x="1017" y="231" width="5" height="2" fill="#000"/>
<rect x="1027" y="227" width="1" height="52" fill="#000"/>
<rect x="1025" y="231" width="5" height="27" fill="#000"/>
<rect x="1035" y="256" width="1" height="31" fill="#000"/>
<rect x="1033" y="258" width="5" height="11" fill="#000"/>
<rect x="1043" y="264" width="1" height="21" fill="#000"/>
<rect x="1041" y="267" width="5" height="4" fill="#000"/>
<rect x="1051" y="261" width="1" height="30" fill="#000"/>
<rect x="1049" y="268" width="5" height="2" fill="#000"/>
<rect x="1059" y="251" width="1" height="23" fill="#000"/>
<rect x="1057" y="255" width="5" height="3" fill="#000"/>
<rect x="1067" y="220" width="1" height="55" fill="#000"/>
<rect x="1065" y="232" width="5" height="27" fill="#000"/>
<rect x="1066" y="233" width="3" height="25" fill="#fff"/>
<rect x="1075" y="222" width="1" height="32" fill="#000"/>
<rect x="1073" y="228" width="5" height="5" fill="#000"/>
<rect x="1074" y="229" width="3" height="3" fill="#fff"/>
<rect x="1083" y="210" width="1" height="30" fill="#000"/>
<rect x="1081" y="219" width="5" height="9" fill="#000"/>
<rect x="1082" y="220" width="3" height="7" fill="#fff"/>
<rect x="1091" y="192" width="1" height="33" fill="#000"/>
<rect x="1089" y="196" width="5" height="22" fill="#000"/>
<rect x="1090" y="197" width="3" height="20" fill="#fff"/>
<rect x="1099" y="154" width="1" height="51" fill="#000"/>
<rect x="1097" y="178" width="5" height="20" fill="#000"/>
<rect x="1098" y="179" width="3" height="18" fill="#fff"/>
<rect x="1107" y="169" width="1" height="20" fill="#000"/>
<rect x="1105" y="172" width="5" height="5" fill="#000"/>
<rect x="1106" y="173" width="3" height="3" fill="#fff"/>
<rect x="1115" y="154" width="1" height="51" fill="#000"/>
<rect x="1113" y="166" width="5" height="8" fill="#000"/>
<rect x="1123" y="172" width="1" height="31" fill="#000"/>
<rect x="1121" y="172" width="5" height="21" fill="#000"/>
<rect x="1131" y="185" width="1" height="16" fill="#000"/>
<rect x="1129" y="188" width="5" height="3" fill="#000"/>
<rect x="1130" y="189" width="3" height="1" fill="#fff"/>
<rect x="1139" y="177" width="1" height="19" fill="#000"/>
<rect x="1137" y="187" width="5" height="1" fill="#000"/>
<rect x="1147" y="182" width="1" height="10" fill="#000"/>
<rect x="1145" y="188" width="5" height="1" fill="#000"/>
<rect x="1155" y="169" width="1" height="21" fill="#000"/>
<rect x="1153" y="170" width="5" height="10" fill="#000"/>
<rect x="1154" y="171" width="3" height="8" fill="#fff"/>
<rect x="1163" y="166" width="1" height="39" fill="#000"/>
<rect x="1161" y="171" width="5" height="22" fill="#000"/>
<rect x="1171" y="186" width="1" height="28" fill="#000"/>
<rect x="1169" y="191" width="5" height="14" fill="#000"/>
<rect x="1179" y="186" width="1" height="31" fill="#000"/>
<rect x="1177" y="203" width="5" height="7" fill="#000"/>
<rect x="1187" y="206" width="1" height="22" fill="#000"/>
<rect x="1185" y="208" width="5" height="5" fill="#000"/>
<rect x="1195" y="209" width="1" height="17" fill="#000"/>
<rect x="1193" y="211" width="5" height="8" fill="#000"/>
<rect x="1203" y="218" width="1" height="14" fill="#000"/>
<rect x="1201" y="222" width="5" height="1" fill="#000"/>
<rect x="1211" y="212" width="1" height="67" fill="#000"/>
<rect x="1209" y="221" width="5" height="48" fill="#000"/>
<rect x="1219" y="225" width="1" height="43" fill="#000"/>
<rect x="1217" y="238" width="5" height="29" fill="#000"/>
<rect x="1218" y="239" width="3" height="27" fill="#fff"/>
<rect x="1227" y="220" width="1" height="25" fill="#000"/>
<rect x="1225" y="223" width="5" height="13" fill="#000"/>
<rect x="1226" y="224" width="3" height="11" fill="#fff"/>
<rect x="1235" y="224" width="1" height="21" fill="#000"/>
<rect x="1233" y="224" width="5" height="17" fill="#000"/>
<rect x="1243" y="228" width="1" height="19" fill="#000"/>
<rect x="1241" y="235" width="5" height="7" fill="#000"/>
<rect x="1242" y="236" width="3" height="5" fill="#fff"/>
<rect x="1251" y="224" width="1" height="22" fill="#000"/>
<rect x="1249" y="228" width="5" height="13" fill="#000"/>
<rect x="1250" y="229" width="3" height="11" fill="#fff"/>
<rect x="1259" y="189" width="1" height="74" fill="#000"/>
<rect x="1257" y="227" width="5" height="21" fill="#000"/>
<rect x="1267" y="238" width="1" height="92" fill="#000"/>
<rect x="1265" y="249" width="5" height="51" fill="#000"/>
<rect x="1275" y="268" width="1" height="38" fill="#000"/>
<rect x="1273" y="276" width="5" height="24" fill="#000"/>
<rect x="1274" y="277" width="3" height="22" fill="#fff"/>
<rect x="1283" y="271" width="1" height="20" fill="#000"/>
<rect x="1281" y="277" width="5" height="10" fill="#000"/>
<rect x="1291" y="254" width="1" height="34" fill="#000"/>
<rect x="1289" y="256" width="5" height="28" fill="#000"/>
<rect x="1290" y="257" width="3" height="26" fill="#fff"/>
<rect x="1299" y="231" width="1" height="25" fill="#000"/>
<rect x="1297" y="233" width="5" height="4" fill="#000"/>
<rect x="1307" y="235" width="1" height="85" fill="#000"/>
<rect x="1305" y="241" width="5" height="51" fill="#000"/>
<rect x="1315" y="255" width="1" height="62" fill="#000"/>
<rect x="1313" y="290" width="5" height="24" fill="#000"/>
<rect x="1323" y="265" width="1" height="56" fill="#000"/>
<rect x="1321" y="273" width="5" height="38" fill="#000"/>
<rect x="1322" y="274" width="3" height="36" fill="#fff"/>
<rect x="1331" y="265" width="1" height="31" fill="#000"/>
<rect x="1329" y="267" width="5" height="8" fill="#000"/>
<rect x="1330" y="268" width="3" height="6" fill="#fff"/>
<rect x="1339" y="252" width="1" height="15" fill="#000"/>
<rect x="1337" y="264" width="5" height="3" fill="#000"/>
<rect x="1338" y="265" width="3" height="1" fill="#fff"/>
<rect x="1347" y="258" width="1" height="26" fill="#000"/>
<rect x="1345" y="260" width="5" height="22" fill="#000"/>
<rect x="1355" y="240" width="1" height="48" fill="#000"/>
<rect x="1353" y="258" width="5" height="24" fill="#000"/>
<rect x="1354" y="259" width="3" height="22" fill="#fff"/>
<rect x="1363" y="256" width="1" height="18" fill="#000"/>
<rect x="1361" y="256" width="5" height="6" fill="#000"/>
<rect x="1371" y="241" width="1" height="28" fill="#000"/>
<rect x="1369" y="261" width="5" height="4" fill="#000"/>
<rect x="1379" y="256" width="1" height="15" fill="#000"/>
<rect x="1377" y="264" width="5" height="2" fill="#000"/>
<rect x="1387" y="258" width="1" height="8" fill="#000"/>
<rect x="1385" y="262" width="5" height="2" fill="#000"/>
</g>
<g shape-rendering="crispEdges">
<rect x="3" y="622" width="1" height="43" fill="#c0c0c0"/>
<rect x="11" y="622" width="1" height="43" fill="#c0c0c0"/>
<rect x="19" y="620" width="1" height="45" fill="#c0c0c0"/>
<rect x="27" y="621" width="1" height="44" fill="#c0c0c0"/>
<rect x="35" y="626" width="1" height="39" fill="#c0c0c0"/>
<rect x="43" y="631" width="1" height="34" fill="#c0c0c0"/>
<rect x="51" y="634" width="1" height="31" fill="#c0c0c0"/>
<rect x="59" y="630" width="1" height="35" fill="#c0c0c0"/>
<rect x="67" y="629" width="1" height="36" fill="#c0c0c0"/>
<rect x="75" y="629" width="1" height="36" fill="#c0c0c0"/>
<rect x="83" y="628" width="1" height="37" fill="#c0c0c0"/>
<rect x="91" y="628" width="1" height="37" fill="#c0c0c0"/>
<rect x="99" y="630" width="1" height="35" fill="#c0c0c0"/>
<rect x="107" y="633" width="1" height="32" fill="#c0c0c0"/>
<rect x="115" y="634" width="1" height="31" fill="#c0c0c0"/>
<rect x="123" y="630" width="1" height="35" fill="#c0c0c0"/>
<rect x="131" y="625" width="1" height="40" fill="#c0c0c0"/>
<rect x="139" y="620" width="1" height="45" fill="#c0c0c0"/>
<rect x="147" y="615" width="1" height="50" fill="#c0c0c0"/>
<rect x="155" y="604" width="1" height="61" fill="#c0c0c0"/>
<rect x="163" y="600" width="1" height="65" fill="#c0c0c0"/>
<rect x="171" y="596" width="1" height="69" fill="#c0c0c0"/>
<rect x="179" y="595" width="1" height="70" fill="#c0c0c0"/>
<rect x="187" y="597" width="1" height="68" fill="#c0c0c0"/>
<rect x="195" y="600" width="1" height="65" fill="#c0c0c0"/>
<rect x="203" y="607" width="1" height="58" fill="#c0c0c0"/>
<rect x="211" y="609" width="1" height="56" fill="#c0c0c0"/>
<rect x="219" y="614" width="1" height="51" fill="#c0c0c0"/>
<rect x="227" y="617" width="1" height="48" fill="#c0c0c0"/>
<rect x="235" y="621" width="1" height="44" fill="#c0c0c0"/>
<rect x="243" y="621" width="1" height="44" fill="#c0c0c0"/>
<rect x="251" y="631" width="1" height="34" fill="#c0c0c0"/>
<rect x="259" y="634" width="1" height="31" fill="#c0c0c0"/>
<rect x="267" y="640" width="1" height="25" fill="#c0c0c0"/>
<rect x="275" y="644" width="1" height="21" fill="#c0c0c0"/>
<rect x="283" y="650" width="1" height="15" fill="#c0c0c0"/>
<rect x="291" y="655" width="1" height="10" fill="#c0c0c0"/>
<rect x="299" y="652" width="1" height="13" fill="#c0c0c0"/>
<rect x="307" y="652" width="1" height="13" fill="#c0c0c0"/>
<rect x="315" y="650" width="1" height="15" fill="#c0c0c0"/>
<rect x="323" y="652" width="1" height="13" fill="#c0c0c0"/>
<rect x="331" y="653" width="1" height="12" fill="#c0c0c0"/>
<rect x="339" y="654" width="1" height="11" fill="#c0c0c0"/>
<rect x="347" y="648" width="1" height="17" fill="#c0c0c0"/>
<rect x="355" y="650" width="1" height="15" fill="#c0c0c0"/>
<rect x="363" y="649" width="1" height="16" fill="#c0c0c0"/>
<rect x="371" y="648" width="1" height="17" fill="#c0c0c0"/>
<rect x="379" y="648" width="1" height="17" fill="#c0c0c0"/>
<rect x="387" y="649" width="1" height="16" fill="#c0c0c0"/>
<rect x="395" y="649" width="1" height="16" fill="#c0c0c0"/>
<rect x="403" y="651" width="1" height="14" fill="#c0c0c0"/>
<rect x="411" y="649" width="1" height="16" fill="#c0c0c0"/>
<rect x="419" y="644" width="1" height="21" fill="#c0c0c0"/>
<rect x="427" y="642" width="1" height="23" fill="#c0c0c0"/>
<rect x="435" y="636" width="1" height="29" fill="#c0c0c0"/>
<rect x="443" y="638" width="1" height="27" fill="#c0c0c0"/>
<rect x="451" y="640" width="1" height="25" fill="#c0c0c0"/>
<rect x="459" y="642" width="1" height="23" fill="#c0c0c0"/>
<rect x="467" y="642" width="1" height="23" fill="#c0c0c0"/>
<rect x="475" y="641" width="1" height="24" fill="#c0c0c0"/>
<rect x="483" y="642" width="1" height="23" fill="#c0c0c0"/>
<rect x="491" y="645" width="1" height="20" fill="#c0c0c0"/>
<rect x="499" y="647" width="1" height="18" fill="#c0c0c0"/>
<rect x="507" y="649" width="1" height="16" fill="#c0c0c0"/>
<rect x="515" y="652" width="1" height="13" fill="#c0c0c0"/>
<rect x="523" y="657" width="1" height="8" fill="#c0c0c0"/>
<rect x="531" y="660" width="1" height="5" fill="#c0c0c0"/>
<rect x="547" y="664" width="1" height="8" fill="#c0c0c0"/>
<rect x="555" y="664" width="1" height="10" fill="#c0c0c0"/>
<rect x="563" y="664" width="1" height="12" fill="#c0c0c0"/>
<rect x="571" y="664" width="1" height="15" fill="#c0c0c0"/>
<rect x="579" y="664" width="1" height="17" fill="#c0c0c0"/>
<rect x="587" y="664" width="1" height="15" fill="#c0c0c0"/>
<rect x="595" y="664" width="1" height="13" fill="#c0c0c0"/>
<rect x="603" y="664" width="1" height="10" fill="#c0c0c0"/>
<rect x="611" y="664" width="1" height="7" fill="#c0c0c0"/>
<rect x="619" y="664" width="1" height="6" fill="#c0c0c0"/>
<rect x="627" y="664" width="1" height="5" fill="#c0c0c0"/>
<rect x="635" y="664" width="1" height="5" fill="#c0c0c0"/>
<rect x="643" y="664" width="1" height="4" fill="#c0c0c0"/>
<rect x="651" y="664" width="1" height="3" fill="#c0c0c0"/>
<rect x="675" y="659" width="1" height="6" fill="#c0c0c0"/>
<rect x="683" y="657" width="1" height="8" fill="#c0c0c0"/>
<rect x="691" y="653" width="1" height="12" fill="#c0c0c0"/>
<rect x="699" y="650" width="1" height="15" fill="#c0c0c0"/>
<rect x="707" y="648" width="1" height="17" fill="#c0c0c0"/>
<rect x="715" y="644" width="1" height="21" fill="#c0c0c0"/>
<rect x="723" y="641" width="1" height="24" fill="#c0c0c0"/>
<rect x="731" y="633" width="1" height="32" fill="#c0c0c0"/>
<rect x="739" y="629" width="1" height="36" fill="#c0c0c0"/>
<rect x="747" y="628" width="1" height="37" fill="#c0c0c0"/>
<rect x="755" y="626" width="1" height="39" fill="#c0c0c0"/>
<rect x="763" y="627" width="1" height="38" fill="#c0c0c0"/>
<rect x="771" y="629" width="1" height="36" fill="#c0c0c0"/>
<rect x="779" y="631" width="1" height="34" fill="#c0c0c0"/>
<rect x="787" y="632" width="1" height="33" fill="#c0c0c0"/>
<rect x="795" y="634" width="1" height="31" fill="#c0c0c0"/>
<rect x="803" y="638" width="1" height="27" fill="#c0c0c0"/>
<rect x="811" y="639" width="1" height="26" fill="#c0c0c0"/>
<rect x="819" y="646" width="1" height="19" fill="#c0c0c0"/>
<rect x="827" y="657" width="1" height="8" fill="#c0c0c0"/>
<rect x="835" y="661" width="1" height="4" fill="#c0c0c0"/>
<rect x="875" y="664" width="1" height="7" fill="#c0c0c0"/>
<rect x="883" y="664" width="1" height="16" fill="#c0c0c0"/>
<rect x="891" y="664" width="1" height="29" fill="#c0c0c0"/>
<rect x="899" y="664" width="1" height="40" fill="#c0c0c0"/>
<rect x="907" y="664" width="1" height="50" fill="#c0c0c0"/>
<rect x="915" y="664" width="1" height="60" fill="#c0c0c0"/>
<rect x="923" y="664" width="1" height="82" fill="#c0c0c0"/>
<rect x="931" y="664" width="1" height="84" fill="#c0c0c0"/>
<rect x="939" y="664" width="1" height="82" fill="#c0c0c0"/>
<rect x="947" y="664" width="1" height="74" fill="#c0c0c0"/>
<rect x="955" y="664" width="1" height="65" fill="#c0c0c0"/>
<rect x="963" y="664" width="1" height="60" fill="#c0c0c0"/>
<rect x="971" y="664" width="1" height="51" fill="#c0c0c0"/>
<rect x="979" y="664" width="1" height="45" fill="#c0c0c0"/>
<rect x="987" y="664" width="1" height="39" fill="#c0c0c0"/>
<rect x="995" y="664" width="1" height="33" fill="#c0c0c0"/>
<rect x="1003" y="664" width="1" height="27" fill="#c0c0c0"/>
<rect x="1011" y="664" width="1" height="20" fill="#c0c0c0"/>
<rect x="1019" y="664" width="1" height="15" fill="#c0c0c0"/>
<rect x="1027" y="664" width="1" height="12" fill="#c0c0c0"/>
<rect x="1035" y="664" width="1" height="12" fill="#c0c0c0"/>
<rect x="1043" y="664" width="1" height="12" fill="#c0c0c0"/>
<rect x="1051" y="664" width="1" height="11" fill="#c0c0c0"/>
<rect x="1059" y="664" width="1" height="10" fill="#c0c0c0"/>
<rect x="1067" y="664" width="1" height="7" fill="#c0c0c0"/>
<rect x="1075" y="664" width="1" height="3" fill="#c0c0c0"/>
<rect x="1083" y="664" width="1" height="1" fill="#c0c0c0"/>
<rect x="1091" y="658" width="1" height="7" fill="#c0c0c0"/>
<rect x="1099" y="653" width="1" height="12" fill="#c0c0c0"/>
<rect x="1107" y="648" width="1" height="17" fill="#c0c0c0"/>
<rect x="1115" y="644" width="1" height="21" fill="#c0c0c0"/>
<rect x="1123" y="643" width="1" height="22" fill="#c0c0c0"/>
<rect x="1131" y="643" width="1" height="22" fill="#c0c0c0"/>
<rect x="1139" y="642" width="1" height="23" fill="#c0c0c0"/>
<rect x="1147" y="642" width="1" height="23" fill="#c0c0c0"/>
<rect x="1155" y="641" width="1" height="24" fill="#c0c0c0"/>
<rect x="1163" y="643" width="1" height="22" fill="#c0c0c0"/>
<rect x="1171" y="645" width="1" height="20" fill="#c0c0c0"/>
<rect x="1179" y="647" width="1" height="18" fill="#c0c0c0"/>
<rect x="1187" y="650" width="1" height="15" fill="#c0c0c0"/>
<rect x="1195" y="653" width="1" height="12" fill="#c0c0c0"/>
<rect x="1203" y="656" width="1" height="9" fill="#c0c0c0"/>
<rect x="1211" y="663" width="1" height="2" fill="#c0c0c0"/>
<rect x="1235" y="664" width="1" height="3" fill="#c0c0c0"/>
<rect x="1243" y="664" width="1" height="4" fill="#c0c0c0"/>
<rect x="1251" y="664" width="1" height="4" fill="#c0c0c0"/>
<rect x="1259" y="664" width="1" height="6" fill="#c0c0c0"/>
<rect x="1267" y="664" width="1" height="12" fill="#c0c0c0"/>
<rect x="1275" y="664" width="1" height="16" fill="#c0c0c0"/>
<rect x="1283" y="664" width="1" height="19" fill="#c0c0c0"/>
<rect x="1291" y="664" width="1" height="18" fill="#c0c0c0"/>
<rect x="1299" y="664" width="1" height="14" fill="#c0c0c0"/>
<rect x="1307" y="664" width="1" height="19" fill="#c0c0c0"/>
<rect x="1315" y="664" width="1" height="23" fill="#c0c0c0"/>
<rect x="1323" y="664" width="1" height="22" fill="#c0c0c0"/>
<rect x="1331" y="664" width="1" height="19" fill="#c0c0c0"/>
<rect x="1339" y="664" width="1" height="17" fill="#c0c0c0"/>
<rect x="1347" y="664" width="1" height="17" fill="#c0c0c0"/>
<rect x="1355" y="664" width="1" height="15" fill="#c0c0c0"/>
<rect x="1363" y="664" width="1" height="15" fill="#c0c0c0"/>
<rect x="1371" y="664" width="1" height="14" fill="#c0c0c0"/>
<rect x="1379" y="664" width="1" height="13" fill="#c0c0c0"/>
<rect x="1387" y="664" width="1" height="12" fill="#c0c0c0"/>
</g>
<g shape-rendering="crispEdges">
<path d="M-5 633.5h2M-3 632.5h1M1 631.5h3M7 630.5h2M9 629.5h1M13 628.5h3M19 627.5h1M20 626.5h2M25 625.5h2M27 624.5h1M31 624.5h3M37 624.5h3M43 624.5h3M49 624.5h3M55 624.5h2M57 625.5h1M61 625.5h3M67 626.5h3M73 626.5h3M79 627.5h3M85 627.5h3M91 628.5h3M97 628.5h2M99 629.5h1M103 629.5h3M109 629.5h2M111 630.5h1M115 630.5h3M121 630.5h3M127 629.5h3M133 629.5h3M139 628.5h2M141 627.5h1M145 626.5h3M151 624.5h3M157 622.5h2M159 621.5h1M163 619.5h3M169 617.5h2M171 616.5h1M175 614.5h2M177 613.5h1M181 611.5h2M183 610.5h1M187 609.5h1M188 608.5h2M193 607.5h2M195 606.5h1M199 605.5h3M205 604.5h3M211 603.5h3M217 602.5h3M223 602.5h1M224 603.5h2M229 603.5h1M230 604.5h2M235 605.5h2M237 606.5h1M241 607.5h1M242 608.5h2M247 610.5h2M249 611.5h1M253 613.5h2M255 614.5h1M259 616.5h2M261 617.5h1M265 619.5h1M266 620.5h2M271 623.5h2M273 624.5h1M277 626.5h1M278 627.5h2M283 630.5h2M285 631.5h1M289 633.5h2M291 634.5h1M295 636.5h2M297 637.5h1M301 639.5h2M303 640.5h1M307 641.5h1M308 642.5h2M313 644.5h2M315 645.5h1M319 646.5h3M325 647.5h2M327 648.5h1M331 648.5h1M332 649.5h2M337 649.5h1M338 650.5h2M343 650.5h1M344 651.5h2M349 651.5h3M355 651.5h1M356 650.5h2M361 650.5h3M367 650.5h3M373 649.5h3M379 649.5h3M385 649.5h3M391 649.5h3M397 649.5h3M403 649.5h3M409 649.5h3M415 649.5h2M417 648.5h1M421 648.5h3M427 648.5h2M429 647.5h1M433 647.5h3M439 646.5h3M445 645.5h3M451 644.5h3M457 643.5h3M463 643.5h3M469 642.5h3M475 642.5h3M481 642.5h3M487 641.5h3M493 641.5h3M499 641.5h1M500 642.5h2M505 642.5h3M511 643.5h3M517 644.5h3M523 646.5h3M529 647.5h1M530 648.5h2M535 649.5h1M536 650.5h2M541 652.5h2M543 653.5h1M547 655.5h2M549 656.5h1M553 658.5h2M555 659.5h1M559 660.5h2M561 661.5h1M565 662.5h2M567 663.5h1M571 664.5h2M573 665.5h1M577 666.5h1M578 667.5h2M583 669.5h2M585 670.5h1M589 671.5h1M590 672.5h2M595 673.5h1M596 674.5h2M601 674.5h1M602 675.5h2M607 675.5h1M608 676.5h2M613 676.5h3M619 675.5h3M625 675.5h3M631 675.5h2M633 674.5h1M637 674.5h3M643 673.5h1M644 672.5h2M649 671.5h3M655 670.5h3M661 670.5h1M662 669.5h2M667 669.5h1M668 668.5h2M673 667.5h2M675 666.5h1M679 665.5h3M685 664.5h1M686 663.5h2M691 662.5h3M697 661.5h1M698 660.5h2M703 659.5h3M709 657.5h3M715 656.5h1M716 655.5h2M721 653.5h2M723 652.5h1M727 650.5h3M733 648.5h1M734 647.5h2M739 645.5h1M740 644.5h2M745 642.5h2M747 641.5h1M751 640.5h2M753 639.5h1M757 638.5h1M758 637.5h2M763 636.5h2M765 635.5h1M769 634.5h3M775 633.5h2M777 632.5h1M781 632.5h1M782 631.5h2M787 631.5h1M788 630.5h2M793 630.5h1M794 629.5h2M799 630.5h3M805 631.5h3M811 632.5h3M817 633.5h2M819 634.5h1M823 635.5h2M825 636.5h1M829 637.5h2M831 638.5h1M835 640.5h2M837 641.5h1M841 643.5h2M843 644.5h1M847 646.5h2M849 647.5h1M853 649.5h2M855 650.5h1M859 652.5h2M861 653.5h1M865 654.5h1M866 655.5h2M871 657.5h1M872 658.5h2M877 660.5h1M878 661.5h2M883 663.5h1M884 664.5h1M885 665.5h1M889 667.5h1M890 668.5h2M895 671.5h1M896 672.5h1M897 673.5h1M901 676.5h2M903 677.5h1M907 680.5h1M908 681.5h1M909 682.5h1M913 686.5h1M914 687.5h2M919 691.5h1M920 692.5h1M921 693.5h1M925 697.5h1M926 698.5h1M927 699.5h1M931 703.5h1M932 704.5h1M933 705.5h1M937.5 709v2M938 711.5h1M942 715.5h1M943 716.5h1M944 717.5h1M948 721.5h1M949 722.5h1M950 723.5h1M954 725.5h1M955 726.5h2M960 728.5h2M962 729.5h1M966 729.5h3M972 730.5h3M978 729.5h3M984 728.5h3M990 726.5h1M991 725.5h1M992 724.5h1M996 721.5h1M997 720.5h2M1002 717.5h1M1003 716.5h1M1004 715.5h1M1008 712.5h1M1009 711.5h2M1014 708.5h1M1015 707.5h1M1016 706.5h1M1020 703.5h1M1021 702.5h1M1022 701.5h1M1026 698.5h2M1028 697.5h1M1032 695.5h1M1033 694.5h1M1034 693.5h1M1038 691.5h1M1039 690.5h1M1040 689.5h1M1044 687.5h2M1046 686.5h1M1050 684.5h1M1051 683.5h2M1056 681.5h2M1058 680.5h1M1062 679.5h1M1063 678.5h2M1068 677.5h2M1070 676.5h1M1074 676.5h1M1075 675.5h2M1080 674.5h3M1086 672.5h3M1092 670.5h2M1094 669.5h1M1098 668.5h1M1099 667.5h2M1104 665.5h2M1106 664.5h1M1110 663.5h1M1111 662.5h2M1116 660.5h1M1117 659.5h2M1122 657.5h1M1123 656.5h2M1128 655.5h1M1129 654.5h2M1134 652.5h3M1140 650.5h3M1146 649.5h1M1147 648.5h2M1152 647.5h2M1154 646.5h1M1158 645.5h1M1159 644.5h2M1164 643.5h3M1170 642.5h3M1176 642.5h3M1182 643.5h3M1188 643.5h3M1194 644.5h3M1200 645.5h3M1206 646.5h3M1212 648.5h3M1218 649.5h1M1219 650.5h2M1224 652.5h2M1226 653.5h1M1230 655.5h3M1236 656.5h1M1237 657.5h2M1242 658.5h2M1244 659.5h1M1248 660.5h2M1250 661.5h1M1254 662.5h1M1255 663.5h2M1260 664.5h1M1261 665.5h2M1266 666.5h2M1268 667.5h1M1272 668.5h3M1278 669.5h1M1279 670.5h2M1284 671.5h2M1286 672.5h1M1290 673.5h3M1296 674.5h3M1302 675.5h1M1303 676.5h2M1308 677.5h1M1309 678.5h2M1314 679.5h1M1315 680.5h2M1320 681.5h3M1326 681.5h1M1327 682.5h2M1332 682.5h3M1338 683.5h3M1344 683.5h3M1350 683.5h3M1356 683.5h3M1362 683.5h3M1368 683.5h3M1374 683.5h3M1380 682.5h3M1386 682.5h2" fill="none" stroke="#ff0000" stroke-width="1" />
</g>
<g shape-rendering="crispEdges">
<line x1="2" y1="793.5" x2="1653" y2="793.5" stroke="#c0c0c0" stroke-width="1" stroke-dasharray="3 3"/>
<line x1="2" y1="844.5" x2="1653" y2="844.5" stroke="#c0c0c0" stroke-width="1" stroke-dasharray="3 3"/>
<line x1="2" y1="905.5" x2="1653" y2="905.5" stroke="#c0c0c0" stroke-width="1" stroke-dasharray="3 3"/>
</g>
<g shape-rendering="crispEdges">
<path d="M-5 826.5h11M6 827.5h4M10 828.5h3M13 827.5h2M15 826.5h2M17 825.5h2M19 824.5h1M20 825.5h2M22 826.5h1M23 827.5h1M24 828.5h2M26 829.5h1M27 830.5h1M28 831.5h1M29.5 832v2M30 834.5h1M31 835.5h1M32 836.5h1M33.5 837v2M34 839.5h1M35 840.5h5M40 841.5h6M46 840.5h4M50 839.5h2M51 838.5h1M52.5 836v2M53.5 834v2M54.5 832v2M55.5 830v2M56.5 828v2M57.5 826v2M58.5 824v2M59 823.5h1M60 824.5h2M62 825.5h2M64 826.5h1M65 827.5h2M67 828.5h3M70 829.5h4M74 830.5h3M77 829.5h3M80 828.5h2M82 827.5h6M88 828.5h4M92 829.5h2M94 830.5h2M96 831.5h1M97 832.5h2M99 833.5h2M101 834.5h2M103 835.5h2M105 836.5h2M107 837.5h2M109 836.5h2M111 835.5h2M113 834.5h2M115 833.5h1M116.5 831v2M117.5 829v2M118.5 827v2M119 826.5h1M120.5 824v2M121.5 822v2M122.5 820v2M123 819.5h3M126 818.5h4M130 817.5h3M133 816.5h2M135 815.5h2M137 814.5h2M139 813.5h2M141 812.5h2M143 811.5h2M145 810.5h2M147 809.5h1M148 808.5h1M149.5 806v2M150 805.5h1M151 804.5h1M152 803.5h1M153.5 801v2M154 800.5h1M155 799.5h1M156.5 800v2M157 802.5h1M158 803.5h1M159.5 804v2M160 806.5h1M161 807.5h1M162.5 808v2M163 810.5h5M168 809.5h5M173 810.5h2M175 811.5h2M177 812.5h2M179 813.5h1M180 814.5h2M182 815.5h1M183 816.5h1M184 817.5h2M186 818.5h1M187 819.5h3M190 820.5h4M194 821.5h2M195 822.5h1M196.5 823v2M197.5 825v2M198.5 827v2M199.5 829v2M200.5 831v2M201.5 833v2M202.5 835v2M203 837.5h1M204 836.5h1M205 835.5h1M206 834.5h1M207.5 832v2M208 831.5h1M209 830.5h1M210 829.5h1M211 828.5h1M212 829.5h2M214 830.5h1M215 831.5h1M216 832.5h2M218 833.5h1M219 834.5h3M222 833.5h4M226 832.5h6M232 833.5h4M236 832.5h1M237 831.5h1M238 830.5h1M239.5 828v2M240 827.5h1M241 826.5h1M242 825.5h1M243.5 824v2M244.5 826v3M245.5 829v4M246.5 833v3M247.5 836v3M248.5 839v3M249.5 842v4M250.5 846v3M251.5 849v2M252.5 848v2M253 847.5h1M254 846.5h1M255.5 844v2M256 843.5h1M257 842.5h1M258.5 840v2M259 839.5h1M260 840.5h1M261 841.5h1M262 842.5h1M263 843.5h1M264 844.5h1M265 845.5h1M266 846.5h1M267 847.5h3M270 846.5h4M274 845.5h2M276 846.5h2M278 847.5h2M280 848.5h1M281 849.5h2M283 850.5h3M286 851.5h4M290 852.5h2M291 851.5h1M292.5 849v2M293.5 847v2M294.5 845v2M295.5 842v3M296.5 840v2M297.5 838v2M298.5 836v2M299.5 834v2M300 834.5h1M301 835.5h2M303 836.5h2M305 837.5h2M307 838.5h5M312 837.5h4M316 838.5h2M318 839.5h1M319 840.5h1M320 841.5h2M322 842.5h1M323 843.5h5M328 844.5h5M333 843.5h3M336 842.5h2M338 841.5h2M340.5 839v2M341.5 837v2M342 836.5h1M343.5 834v2M344 833.5h1M345.5 831v2M346.5 829v2M347 828.5h1M348.5 829v2M349.5 831v2M350 833.5h1M351.5 834v2M352 836.5h1M353.5 837v2M354.5 839v2M355 841.5h2M357 840.5h3M360 839.5h2M362 838.5h12M374 837.5h4M378 836.5h2M380 837.5h1M381 838.5h1M382 839.5h1M383 840.5h1M384 841.5h1M385 842.5h1M386 843.5h1M387 844.5h2M389 843.5h2M391 842.5h2M393 841.5h2M395 840.5h5M400 839.5h4M404 838.5h2M406 837.5h1M407 836.5h1M408 835.5h2M410 834.5h1M411 833.5h1M412 832.5h1M413 831.5h1M414 830.5h1M415 829.5h1M416 828.5h1M417 827.5h1M418 826.5h1M419 825.5h2M421 826.5h3M424 827.5h2M426 828.5h2M428 827.5h1M429 826.5h1M430 825.5h1M431 824.5h1M432 823.5h1M433 822.5h1M434 821.5h1M435.5 820v2M436.5 822v2M437.5 824v2M438.5 826v2M439.5 828v2M440.5 830v2M441.5 832v2M442.5 834v2M443.5 836v2M444 837.5h2M446 838.5h4M450 839.5h2M452 840.5h2M454 841.5h2M456 842.5h1M457 843.5h2M459 844.5h1M460 843.5h1M461.5 841v2M462 840.5h1M463 839.5h1M464 838.5h1M465.5 836v2M466 835.5h1M467 834.5h3M470 833.5h4M474 832.5h3M477 833.5h3M480 834.5h2M482 835.5h2M484 836.5h1M485 837.5h1M486 838.5h1M487 839.5h1M488 840.5h1M489 841.5h1M490 842.5h1M491 843.5h2M493 842.5h3M496 841.5h2M498 840.5h4M502 841.5h4M506 842.5h3M509 843.5h2M511 844.5h2M513 845.5h2M515 846.5h1M516 847.5h2M518 848.5h1M519 849.5h1M520 850.5h2M522 851.5h1M523 852.5h9M532 853.5h1M533 854.5h1M534 855.5h1M535 856.5h1M536 857.5h1M537 858.5h1M538 859.5h1M539 860.5h1M540 861.5h2M542 862.5h2M544 863.5h1M545 864.5h2M547 865.5h1M548 864.5h1M549.5 862v2M550 861.5h1M551 860.5h1M552 859.5h1M553.5 857v2M554 856.5h1M555 855.5h5M560 854.5h4M564 855.5h2M566 856.5h1M567 857.5h1M568 858.5h2M570 859.5h1M571 860.5h3M574 861.5h4M578 862.5h2M579 861.5h1M580.5 859v2M581.5 857v2M582.5 855v2M583.5 853v2M584.5 851v2M585.5 849v2M586.5 847v2M587.5 845v2M588 845.5h2M590 846.5h4M594 847.5h2M596 846.5h2M598 845.5h1M599 844.5h1M600 843.5h2M602 842.5h1M603 841.5h2M605 840.5h2M607 839.5h2M609 838.5h2M611 837.5h1M612 838.5h1M613.5 839v2M614 841.5h1M615 842.5h1M616 843.5h1M617.5 844v2M618 846.5h1M619 847.5h1M620 846.5h2M622 845.5h2M624 844.5h1M625 843.5h2M627 842.5h2M629 843.5h2M631 844.5h2M633 845.5h2M635 846.5h1M636 845.5h2M638 844.5h2M640 843.5h1M641 842.5h2M643 841.5h10M653 842.5h3M656 843.5h2M658 844.5h2M660 843.5h1M661 842.5h1M662 841.5h1M663 840.5h1M664 839.5h1M665 838.5h1M666 837.5h1M667 836.5h1M668 835.5h1M669 834.5h1M670 833.5h1M671.5 831v2M672 830.5h1M673 829.5h1M674 828.5h1M675 827.5h1M676 828.5h2M678 829.5h1M679 830.5h1M680 831.5h2M682 832.5h1M683 833.5h1M684 832.5h2M686 831.5h2M688 830.5h1M689 829.5h2M691 828.5h2M693 827.5h3M696 826.5h2M698 825.5h6M704 826.5h4M708 825.5h1M709 824.5h1M710 823.5h1M711 822.5h1M712 821.5h1M713 820.5h1M714 819.5h1M715 818.5h9M724.5 816v2M725 815.5h1M726.5 813v2M727 812.5h1M728.5 810v2M729 809.5h1M730.5 807v2M731 806.5h1M732 807.5h2M734 808.5h1M735 809.5h1M736 810.5h2M738 811.5h1M739 812.5h1M740 813.5h1M741 814.5h1M742 815.5h1M743 816.5h1M744 817.5h1M745 818.5h1M746 819.5h1M747 820.5h2M749 819.5h3M752 818.5h2M754 817.5h2M756 818.5h2M758 819.5h1M759 820.5h1M760 821.5h2M762 822.5h1M763 823.5h1M764 824.5h2M766 825.5h2M768 826.5h1M769 827.5h2M771 828.5h3M774 829.5h4M778 830.5h4M782 829.5h4M786 828.5h10M796.5 829v2M797 831.5h1M798.5 832v2M799 834.5h1M800.5 835v2M801 837.5h1M802.5 838v2M803 840.5h1M804 839.5h1M805 838.5h1M806 837.5h1M807 836.5h1M808 835.5h1M809 834.5h1M810 833.5h1M811.5 832v2M812.5 834v2M813.5 836v3M814.5 839v3M815.5 842v2M816.5 844v3M817.5 847v3M818.5 850v2M819.5 852v3M820.5 855v2M821.5 857v2M822.5 859v2M823.5 861v2M824.5 863v2M825.5 865v2M826.5 867v2M827 869.5h1M828.5 867v2M829.5 865v2M830.5 863v2M831.5 861v2M832.5 859v2M833.5 857v2M834.5 855v2M835 854.5h3M838 853.5h4M842 852.5h10M852 851.5h1M853 850.5h1M854 849.5h1M855 848.5h1M856 847.5h1M857 846.5h1M858 845.5h1M859 844.5h3M862 845.5h4M866 846.5h2M868.5 847v2M869 849.5h1M870.5 850v2M871 852.5h1M872.5 853v2M873 855.5h1M874.5 856v2M875 858.5h1M876.5 859v2M877.5 861v2M878 863.5h1M879.5 864v2M880 866.5h1M881.5 867v2M882.5 869v2M883 871.5h1M884.5 872v2M885 874.5h1M886 875.5h1M887.5 876v2M888 878.5h1M889 879.5h1M890.5 880v2M891 882.5h2M893 883.5h3M896 884.5h2M898 885.5h6M904 886.5h5M909 887.5h3M912 888.5h2M914 889.5h2M916.5 890v2M917.5 892v2M918 894.5h1M919.5 895v2M920 897.5h1M921.5 898v2M922.5 900v2M923.5 900v3M924.5 896v4M925.5 892v4M926.5 887v5M927.5 883v4M928.5 878v5M929.5 874v4M930.5 870v4M931.5 867v3M932 866.5h2M934 865.5h2M936 864.5h1M937 863.5h2M939 862.5h1M940 861.5h1M941.5 859v2M942 858.5h1M943 857.5h1M944 856.5h1M945.5 854v2M946 853.5h1M947 852.5h2M949 851.5h3M952 850.5h2M954 849.5h3M957 850.5h3M960 851.5h2M962 852.5h2M964 851.5h1M965 850.5h1M966 849.5h2M968 848.5h1M969 847.5h1M970 846.5h1M971 845.5h1M972 846.5h2M974 847.5h2M976 848.5h1M977 849.5h2M979 850.5h2M981 849.5h2M983 848.5h2M985 847.5h2M987 846.5h3M990 845.5h4M994 844.5h4M998 843.5h4M1002 842.5h4M1006 841.5h4M1010 840.5h10M1020 841.5h2M1022 842.5h1M1023 843.5h1M1024 844.5h2M1026 845.5h1M1027 846.5h3M1030 847.5h4M1034 848.5h19M1053 847.5h3M1056 846.5h2M1058 845.5h2M1060 844.5h1M1061 843.5h1M1062 842.5h2M1064 841.5h1M1065 840.5h1M1066 839.5h1M1067 838.5h5M1072 837.5h5M1077 836.5h3M1080 835.5h2M1082 834.5h2M1084 833.5h2M1086 832.5h2M1088 831.5h1M1089 830.5h2M1091 829.5h2M1093 828.5h2M1095 827.5h2M1097 826.5h2M1099 825.5h3M1102 824.5h4M1106 823.5h10M1116 824.5h1M1117 825.5h1M1118 826.5h1M1119.5 827v2M1120 829.5h1M1121 830.5h1M1122 831.5h1M1123 832.5h3M1126 831.5h4M1130 830.5h18M1148 829.5h2M1150 828.5h1M1151 827.5h1M1152 826.5h2M1154 825.5h1M1155 824.5h1M1156.5 825v2M1157 827.5h1M1158.5 828v2M1159 830.5h1M1160.5 831v2M1161 833.5h1M1162.5 834v2M1163 836.5h2M1165 837.5h2M1167 838.5h2M1169 839.5h2M1171 840.5h3M1174 841.5h4M1178 842.5h4M1182 843.5h4M1186 844.5h3M1189 845.5h3M1192 846.5h2M1194 847.5h4M1198 848.5h4M1202 849.5h2M1203 850.5h1M1204.5 851v2M1205.5 853v2M1206.5 855v2M1207.5 857v2M1208.5 859v2M1209.5 861v2M1210.5 863v2M1211.5 865v2M1212.5 864v2M1213.5 862v2M1214.5 860v2M1215.5 858v2M1216.5 856v2M1217.5 854v2M1218.5 852v2M1219 851.5h1M1220 850.5h2M1222 849.5h2M1224 848.5h1M1225 847.5h2M1227 846.5h1M1228 847.5h2M1230 848.5h1M1231 849.5h1M1232 850.5h2M1234 851.5h1M1235 852.5h3M1238 851.5h4M1242 850.5h3M1245 849.5h2M1247 848.5h2M1249 847.5h2M1251 846.5h1M1252 847.5h1M1253 848.5h1M1254 849.5h1M1255 850.5h1M1256 851.5h1M1257 852.5h1M1258 853.5h1M1259.5 854v2M1260.5 856v2M1261.5 858v2M1262.5 860v2M1263.5 862v2M1264.5 864v2M1265.5 866v2M1266.5 868v2M1267 870.5h1M1268 869.5h1M1269.5 867v2M1270 866.5h1M1271 865.5h1M1272 864.5h1M1273.5 862v2M1274 861.5h1M1275 860.5h2M1277 861.5h2M1279 862.5h2M1281 863.5h2M1283 864.5h1M1284.5 862v2M1285 861.5h1M1286.5 859v2M1287 858.5h1M1288.5 856v2M1289 855.5h1M1290.5 853v2M1291 852.5h1M1292 851.5h2M1294 850.5h1M1295 849.5h1M1296 848.5h2M1298 847.5h1M1299 846.5h1M1300.5 847v2M1301.5 849v2M1302.5 851v2M1303 853.5h1M1304.5 854v2M1305.5 856v2M1306.5 858v2M1307 860.5h1M1308 861.5h2M1310 862.5h2M1312 863.5h1M1313 864.5h2M1315 865.5h1M1316.5 863v2M1317.5 861v2M1318 860.5h1M1319.5 858v2M1320 857.5h1M1321.5 855v2M1322.5 853v2M1323 852.5h3M1326 851.5h4M1330 850.5h6M1336 849.5h4M1340 850.5h2M1342 851.5h2M1344 852.5h1M1345 853.5h2M1347 854.5h1M1348 853.5h1M1349 852.5h1M1350 851.5h2M1352 850.5h1M1353 849.5h1M1354 848.5h1M1355 847.5h13M1368 848.5h16M1384 847.5h4" fill="none" stroke="#1e90ff" stroke-width="1" />
</g>
<g shape-rendering="crispEdges" fill="#000">
<rect x="0" y="30" width="1654" height="1"/>
<rect x="1653" y="30" width="1" height="902"/>
<rect x="0" y="583" width="1654" height="1"/>
<rect x="0" y="585" width="1654" height="1"/>
<rect x="0" y="755" width="1654" height="1"/>
<rect x="0" y="757" width="1654" height="1"/>
<rect x="0" y="931" width="1656" height="1"/>
<rect x="0" y="584" width="1655" height="1" fill="#fff"/>
<rect x="0" y="756" width="1655" height="1" fill="#fff"/>
<rect x="1654" y="52" width="2" height="1"/>
<rect x="1654" y="85" width="2" height="1"/>
<rect x="1654" y="118" width="2" height="1"/>
<rect x="1654" y="151" width="2" height="1"/>
<rect x="1654" y="184" width="2" height="1"/>
<rect x="1654" y="217" width="2" height="1"/>
<rect x="1654" y="250" width="2" height="1"/>
<rect x="1654" y="283" width="2" height="1"/>
<rect x="1654" y="316" width="2" height="1"/>
<rect x="1654" y="349" width="2" height="1"/>
<rect x="1654" y="382" width="2" height="1"/>
<rect x="1654" y="415" width="2" height="1"/>
<rect x="1654" y="448" width="2" height="1"/>
<rect x="1654" y="481" width="2" height="1"/>
<rect x="1654" y="514" width="2" height="1"/>
<rect x="1654" y="547" width="2" height="1"/>
<rect x="1654" y="580" width="2" height="1"/>
<rect x="1654" y="664" width="2" height="1"/>
<rect x="59" y="932" width="1" height="3"/>
<rect x="123" y="932" width="1" height="3"/>
<rect x="187" y="932" width="1" height="3"/>
<rect x="251" y="932" width="1" height="3"/>
<rect x="315" y="932" width="1" height="3"/>
<rect x="379" y="932" width="1" height="3"/>
<rect x="443" y="932" width="1" height="3"/>
<rect x="507" y="932" width="1" height="3"/>
<rect x="571" y="932" width="1" height="3"/>
<rect x="635" y="932" width="1" height="3"/>
<rect x="699" y="932" width="1" height="3"/>
<rect x="763" y="932" width="1" height="3"/>
<rect x="827" y="932" width="1" height="3"/>
<rect x="891" y="932" width="1" height="3"/>
<rect x="955" y="932" width="1" height="3"/>
<rect x="1019" y="932" width="1" height="3"/>
<rect x="1083" y="932" width="1" height="3"/>
<rect x="1147" y="932" width="1" height="3"/>
<rect x="1211" y="932" width="1" height="3"/>
<rect x="1275" y="932" width="1" height="3"/>
<rect x="1339" y="932" width="1" height="3"/>
</g>
<polygon points="1397,31 1408,31 1402.5,36" fill="#c0c0c0"/>
<rect x="1276" y="248" width="144" height="5" fill="#00ff00" shape-rendering="crispEdges"/>
<line x1="1120.4" y1="167.8" x2="1255.0" y2="297.3" stroke="#ffff00" stroke-width="2.6" stroke-linecap="round"/>
<polygon points="1262.2,304.2 1251.2,301.2 1258.8,293.3" fill="#ffff00"/>
<line x1="1264.0" y1="303.0" x2="1292.1" y2="245.5" stroke="#ffff00" stroke-width="2.6" stroke-linecap="round"/>
<polygon points="1296.5,236.5 1297.1,247.9 1287.2,243.1" fill="#ffff00"/>
<line x1="1120.7" y1="167.2" x2="1258.8" y2="297.2" stroke="#ff0000" stroke-width="2.8" stroke-linecap="round"/>
<polygon points="1265.0,303.0 1255.7,300.5 1262.0,293.8" fill="#ff0000"/>
<line x1="1264.5" y1="302.0" x2="1299.2" y2="242.3" stroke="#ff0000" stroke-width="2.8" stroke-linecap="round"/>
<polygon points="1303.5,235.0 1303.2,244.7 1295.2,240.0" fill="#ff0000"/>
<line x1="1304.0" y1="236.0" x2="1315.4" y2="308.6" stroke="#ff0000" stroke-width="2.8" stroke-linecap="round"/>
<polygon points="1316.7,317.0 1310.8,309.3 1319.9,307.9" fill="#ff0000"/>
<line x1="1317.0" y1="316.0" x2="1346.1" y2="260.0" stroke="#ff0000" stroke-width="2.8" stroke-linecap="round"/>
<polygon points="1350.0,252.5 1350.2,262.2 1342.0,257.9" fill="#ff0000"/>
<line x1="1350.0" y1="252.5" x2="1385.5" y2="254.1" stroke="#ff0000" stroke-width="2.8" stroke-linecap="round"/>
<polygon points="1394.0,254.5 1385.3,258.7 1385.7,249.5" fill="#ff0000"/>
<line x1="1291.5" y1="677.3" x2="1387.0" y2="681.5" stroke="#ff0000" stroke-width="3" stroke-linecap="round"/>
<polygon points="1395.0,681.8 1386.8,685.9 1387.2,677.0" fill="#ff0000"/>
<line x1="1300.0" y1="858.6" x2="1383.1" y2="847.6" stroke="#ff0000" stroke-width="3" stroke-linecap="round"/>
<polygon points="1391.0,846.5 1383.7,852.0 1382.5,843.1" fill="#ff0000"/>
<text x="1381.5" y="241" font-size="20" fill="#00ff00" font-family='"Noto Sans CJK SC", sans-serif' font-weight="200" textLength="106" lengthAdjust="spacing">多空转折点</text>
<text x="1659" y="55.6" font-size="9.4" letter-spacing="-0.06" fill="#000">29449.0</text>
<text x="1659" y="88.6" font-size="9.4" letter-spacing="-0.06" fill="#000">29338.0</text>
<text x="1659" y="121.6" font-size="9.4" letter-spacing="-0.06" fill="#000">29227.0</text>
<text x="1659" y="154.6" font-size="9.4" letter-spacing="-0.06" fill="#000">29116.0</text>
<text x="1659" y="187.6" font-size="9.4" letter-spacing="-0.06" fill="#000">29005.0</text>
<text x="1659" y="220.6" font-size="9.4" letter-spacing="-0.06" fill="#000">28894.0</text>
<text x="1659" y="253.6" font-size="9.4" letter-spacing="-0.06" fill="#000">28783.0</text>
<text x="1659" y="286.6" font-size="9.4" letter-spacing="-0.06" fill="#000">28672.0</text>
<text x="1659" y="319.6" font-size="9.4" letter-spacing="-0.06" fill="#000">28561.0</text>
<text x="1659" y="352.6" font-size="9.4" letter-spacing="-0.06" fill="#000">28450.0</text>
<text x="1659" y="385.6" font-size="9.4" letter-spacing="-0.06" fill="#000">28339.0</text>
<text x="1659" y="418.6" font-size="9.4" letter-spacing="-0.06" fill="#000">28228.0</text>
<text x="1659" y="451.6" font-size="9.4" letter-spacing="-0.06" fill="#000">28117.0</text>
<text x="1659" y="484.6" font-size="9.4" letter-spacing="-0.06" fill="#000">28006.0</text>
<text x="1659" y="517.6" font-size="9.4" letter-spacing="-0.06" fill="#000">27895.0</text>
<text x="1659" y="550.6" font-size="9.4" letter-spacing="-0.06" fill="#000">27784.0</text>
<text x="1659" y="583.6" font-size="9.4" letter-spacing="-0.06" fill="#000">27673.0</text>
<rect x="1655" y="200" width="41" height="11" fill="#ff0000" shape-rendering="crispEdges"/>
<text x="1659" y="209" font-size="9.4" letter-spacing="-0.06" fill="#fff">28930.9</text>
<rect x="1655" y="222" width="41" height="11" fill="#ff0000" shape-rendering="crispEdges"/>
<text x="1659" y="231" font-size="9.4" letter-spacing="-0.06" fill="#fff">28857.0</text>
<rect x="1655" y="240" width="41" height="11" fill="#32cd32" shape-rendering="crispEdges"/>
<text x="1659" y="249" font-size="9.4" letter-spacing="-0.06" fill="#fff">28796.5</text>
<rect x="1655" y="257" width="41" height="11" fill="#000000" shape-rendering="crispEdges"/>
<text x="1659" y="266" font-size="9.4" letter-spacing="-0.06" fill="#fff">28742.5</text>
<rect x="1655" y="277" width="41" height="11" fill="#0000ff" shape-rendering="crispEdges"/>
<text x="1659" y="286" font-size="9.4" letter-spacing="-0.06" fill="#fff">28672.2</text>
<rect x="1655" y="300" width="41" height="11" fill="#0000ff" shape-rendering="crispEdges"/>
<text x="1659" y="309" font-size="9.4" letter-spacing="-0.06" fill="#fff">28594.9</text>
<text x="1657" y="595.5" font-size="9.4" letter-spacing="-0.06" fill="#000">209.13</text>
<text x="1657" y="667.5" font-size="9.4" letter-spacing="-0.06" fill="#000">0.00</text>
<text x="1657" y="751.3" font-size="9.4" letter-spacing="-0.06" fill="#000">-241.87</text>
<text x="1657" y="767.7" font-size="9.4" letter-spacing="-0.06" fill="#000">100</text>
<text x="1657" y="796.5" font-size="9.4" letter-spacing="-0.06" fill="#000">80</text>
<text x="1657" y="847.5" font-size="9.4" letter-spacing="-0.06" fill="#000">50</text>
<text x="1657" y="908.8" font-size="9.4" letter-spacing="-0.06" fill="#000">15</text>
<text x="1657" y="927.5" font-size="9.4" letter-spacing="-0.06" fill="#000">0</text>
<text x="-6" y="944" font-size="9.4" letter-spacing="-0.06" fill="#000">24 May 2021</text>
<text x="58" y="944" font-size="9.4" letter-spacing="-0.06" fill="#000">26 May 00:00</text>
<text x="122" y="944" font-size="9.4" letter-spacing="-0.06" fill="#000">27 May 10:55</text>
<text x="186" y="944" font-size="9.4" letter-spacing="-0.06" fill="#000">28 May 18:55</text>
<text x="250" y="944" font-size="9.4" letter-spacing="-0.06" fill="#000">1 Jun 00:00</text>
<text x="314" y="944" font-size="9.4" letter-spacing="-0.06" fill="#000">2 Jun 10:55</text>
<text x="378" y="944" font-size="9.4" letter-spacing="-0.06" fill="#000">3 Jun 18:55</text>
<text x="442" y="944" font-size="9.4" letter-spacing="-0.06" fill="#000">7 Jun 00:00</text>
<text x="506" y="944" font-size="9.4" letter-spacing="-0.06" fill="#000">8 Jun 09:00</text>
<text x="570" y="944" font-size="9.4" letter-spacing="-0.06" fill="#000">9 Jun 18:55</text>
<text x="634" y="944" font-size="9.4" letter-spacing="-0.06" fill="#000">11 Jun 00:00</text>
<text x="698" y="944" font-size="9.4" letter-spacing="-0.06" fill="#000">14 Jun 10:55</text>
<text x="762" y="944" font-size="9.4" letter-spacing="-0.06" fill="#000">15 Jun 18:55</text>
<text x="826" y="944" font-size="9.4" letter-spacing="-0.06" fill="#000">17 Jun 00:00</text>
<text x="890" y="944" font-size="9.4" letter-spacing="-0.06" fill="#000">18 Jun 10:55</text>
<text x="954" y="944" font-size="9.4" letter-spacing="-0.06" fill="#000">21 Jun 18:55</text>
<text x="1018" y="944" font-size="9.4" letter-spacing="-0.06" fill="#000">23 Jun 00:00</text>
<text x="1082" y="944" font-size="9.4" letter-spacing="-0.06" fill="#000">24 Jun 10:55</text>
<text x="1146" y="944" font-size="9.4" letter-spacing="-0.06" fill="#000">25 Jun 18:55</text>
<text x="1210" y="944" font-size="9.4" letter-spacing="-0.06" fill="#000">29 Jun 00:00</text>
<text x="1274" y="944" font-size="9.4" letter-spacing="-0.06" fill="#000">30 Jun 10:55</text>
<text x="1338" y="944" font-size="9.4" letter-spacing="-0.06" fill="#000">1 Jul 18:55</text>
<polygon points="0,41 5.5,41 2.75,37" fill="#000"/>
<text x="10" y="42" font-size="9.4" letter-spacing="-0.06" fill="#000" xml:space="preserve">JPN225-,H4  28740.0 28767.5 28732.5 28742.5</text>
<text x="0" y="598" font-size="9.4" letter-spacing="-0.06" fill="#000">MACD(12,26,9) -27.48 -41.57</text>
<text x="-1" y="770" font-size="9.4" letter-spacing="-0.06" fill="#000">RSI(14) 48.4776</text></svg>
<div id="winedge"></div>
<div id="tb"><svg width="1700" height="28" viewBox="0 0 1700 28" font-family='"Liberation Sans","Noto Sans CJK SC",sans-serif'><defs><linearGradient id="gGold" x1="0" y1="0" x2="1" y2="1"><stop offset="0" stop-color="#ffe27a"/><stop offset="0.6" stop-color="#e0a820"/><stop offset="1" stop-color="#a87408"/></linearGradient><linearGradient id="gGreen" x1="0" y1="0" x2="0" y2="1"><stop offset="0" stop-color="#5cf25c"/><stop offset="1" stop-color="#0a9a0a"/></linearGradient><linearGradient id="gBlue" x1="0" y1="0" x2="0" y2="1"><stop offset="0" stop-color="#6ab8ff"/><stop offset="1" stop-color="#1560c8"/></linearGradient><radialGradient id="gLens" cx="0.4" cy="0.35" r="0.7"><stop offset="0" stop-color="#ffffff"/><stop offset="1" stop-color="#b4dcf8"/></radialGradient><linearGradient id="gRed" x1="0" y1="0" x2="0" y2="1"><stop offset="0" stop-color="#f05038"/><stop offset="1" stop-color="#c01808"/></linearGradient><linearGradient id="gBlue2" x1="0" y1="0" x2="0" y2="1"><stop offset="0" stop-color="#3c90f4"/><stop offset="0.5" stop-color="#1658c4"/><stop offset="1" stop-color="#0c3c9c"/></linearGradient><pattern id="chk" width="2" height="2" patternUnits="userSpaceOnUse"><rect width="2" height="2" fill="#fff"/><rect width="1" height="1" fill="#f0f0f0"/><rect x="1" y="1" width="1" height="1" fill="#f0f0f0"/></pattern></defs><rect x="0" y="0" width="1700" height="1" fill="#fbfbfb"/><line x1="1.5" y1="17.5" x2="5.5" y2="22.5" stroke="#c89a20" stroke-width="2.6" stroke-linecap="round"/><circle cx="-3.5" cy="12" r="5.6" fill="url(#gLens)" stroke="#5a96dc" stroke-width="1.2"/><rect x="14" y="3" width="1" height="21" fill="#a0a0a0"/><rect x="15" y="3" width="1" height="21" fill="#fafafa"/><path d="M25.5,6.5 h7 l3,3 v9.5 q0,1 -1,1 h-9 q-1,0 -1,-1 v-11.5 q0,-1 1,-1z" fill="#fff" stroke="#6a6a6a" stroke-width="1"/><path d="M32.5,6.5 v3 h3" fill="none" stroke="#6a6a6a" stroke-width="1"/><rect x="26.5" y="8.5" width="3" height="1.4" fill="#8a8a8a"/><rect x="26.5" y="12" width="6" height="0.9" fill="#9a9a9a"/><rect x="26.5" y="14.2" width="4" height="0.9" fill="#9a9a9a"/><path d="M32.3,12.4 h3.6 v3.8 h3.8 v3.4 h-3.8 v3.8 h-3.6 v-3.8 h-3.8 v-3.4 h3.8z" fill="url(#gGreen)" stroke="#0a8a0a" stroke-width="0.8"/><text x="43" y="16.9" font-size="12" fill="#000">新订单</text><path d="M91,16 L98.6,21.9 L107.2,15.8 L105.6,12.4 L99,19 L91.4,14.6 Z" fill="#b07a14" stroke="#8a5a0a" stroke-width="0.6"/><path d="M99,20.6 L106.4,14.6" stroke="#f0dc9a" stroke-width="0.7"/><path d="M96.4,7.1 Q101.5,9 105.7,12.5 L99.2,19.6 L91.2,15.6 Q94.6,11.6 96.4,7.1 Z" fill="url(#gGold)" stroke="#a86c10" stroke-width="0.8"/><path d="M97,8.6 Q95.4,12.4 92.8,15.4" fill="none" stroke="#fff2b0" stroke-width="0.9" opacity="0.9"/><path d="M121.2,7.6 L124,6 L132,6 L132,15 L121.2,15 Z" fill="#1e96f0" stroke="#1c78d8" stroke-width="0.6"/><path d="M121.2,7.6 L124,9 L124,15 L121.2,15 Z" fill="#0a86ec"/><path d="M124,6 L132,6 L132,8.6 L124,9 Z" fill="#4ab4ff" opacity="0.6"/><rect x="126" y="10.4" width="5" height="1.6" fill="#d8efff"/><rect x="124" y="9" width="0.9" height="6" fill="#bfe4ff"/><path d="M121.6,21.6 a2.9,2.9 0 0 1 0.2,-5.6 a3.6,3.6 0 0 1 6.4,-1.2 a3.2,3.2 0 0 1 4.4,2 a2.5,2.5 0 0 1 -0.2,4.8z" fill="#eef3fa" stroke="#4a6cb0" stroke-width="1.2"/><path d="M121,20.6 h12.4" stroke="#c4d2e8" stroke-width="1.4"/><path d="M155,6.2 A7.8,7.8 0 0 1 155,21.8 Z" fill="#4aa04a" opacity="0.7"/><path d="M155,9 A5,5 0 0 1 155,19 Z" fill="#3c963c" opacity="0.45"/><circle cx="155" cy="14" r="7.5" fill="none" stroke="#7aa8e6" stroke-width="1" opacity="0.75"/><circle cx="155" cy="14" r="5.2" fill="none" stroke="#4a86dc" stroke-width="1.2" opacity="0.9"/><circle cx="155" cy="14" r="3" fill="none" stroke="#e8f0fa" stroke-width="0.8"/><circle cx="155" cy="13.8" r="2.1" fill="#2a5cd0"/><rect x="155" y="14" width="1.2" height="7.8" fill="#1eae1e"/><path d="M176,12 L188.5,12 L188,18 L183,22 L178,19 Z" fill="#f8d850" stroke="#d0a020" stroke-width="0.8"/><ellipse cx="182" cy="11.2" rx="8" ry="3" fill="#5aa0e0" stroke="#3a78c0" stroke-width="0.7"/><ellipse cx="182" cy="8.8" rx="4.2" ry="2.6" fill="#7cc0f4" stroke="#3a78c0" stroke-width="0.7"/><circle cx="186.6" cy="18" r="4.3" fill="url(#gRed)" stroke="#b01408" stroke-width="0.6"/><rect x="185" y="16.4" width="3.3" height="3.3" fill="#fff"/><text x="195" y="16.9" font-size="12" fill="#000" textLength="47" lengthAdjust="spacing">自动交易</text><rect x="250" y="1" width="1" height="25" fill="#a0a0a0"/><rect x="251" y="1" width="1" height="25" fill="#fff"/><rect x="254" y="4" width="3" height="1" fill="#a0a0a0"/><rect x="254" y="6" width="3" height="1" fill="#a0a0a0"/><rect x="254" y="8" width="3" height="1" fill="#a0a0a0"/><rect x="254" y="10" width="3" height="1" fill="#a0a0a0"/><rect x="254" y="12" width="3" height="1" fill="#a0a0a0"/><rect x="254" y="14" width="3" height="1" fill="#a0a0a0"/><rect x="254" y="16" width="3" height="1" fill="#a0a0a0"/><rect x="254" y="18" width="3" height="1" fill="#a0a0a0"/><rect x="254" y="20" width="3" height="1" fill="#a0a0a0"/><rect x="254" y="22" width="3" height="1" fill="#a0a0a0"/><g fill="#555"><rect x="268" y="8" width="1" height="14"/><rect x="266" y="19" width="14" height="1"/><polygon points="266.8,10.2 268.5,7.6 270.2,10.2"/><polygon points="278.2,17.8 280.6,19.5 278.2,21.2"/></g><g fill="#0a8c0a"><rect x="274" y="9" width="1" height="9"/><rect x="275" y="10" width="2" height="1"/><rect x="272" y="16" width="2" height="1"/></g><rect x="288" y="2" width="25" height="22" fill="url(#chk)"/><rect x="288" y="2" width="25" height="1" fill="#a0a0a0"/><rect x="288" y="2" width="1" height="22" fill="#a0a0a0"/><rect x="313" y="2" width="1" height="23" fill="#fff"/><rect x="288" y="24" width="25" height="1" fill="#fff"/><g fill="#555"><rect x="296" y="8" width="1" height="14"/><rect x="294" y="19" width="14" height="1"/><polygon points="294.8,10.2 296.5,7.6 298.2,10.2"/><polygon points="306.2,17.8 308.6,19.5 306.2,21.2"/></g><rect x="302" y="6" width="1" height="12" fill="#0a7a0a"/><rect x="300.5" y="8.5" width="4" height="7" fill="#2ce02c" stroke="#0a8a0a" stroke-width="1"/><g fill="#555"><rect x="324" y="8" width="1" height="14"/><rect x="322" y="19" width="14" height="1"/><polygon points="322.8,10.2 324.5,7.6 326.2,10.2"/><polygon points="334.2,17.8 336.6,19.5 334.2,21.2"/></g><path d="M323,16.6 C325.5,14.5 327,11.2 329.4,11.2 C331.4,11.2 332.6,14.2 335,15" fill="none" stroke="#1e9a3a" stroke-width="1.1"/><rect x="345" y="3" width="1" height="21" fill="#a0a0a0"/><rect x="346" y="3" width="1" height="21" fill="#fafafa"/><line x1="364.6" y1="16.8" x2="368.6" y2="20.8" stroke="#c8a024" stroke-width="2.6" stroke-linecap="round"/><circle cx="360" cy="12" r="5.6" fill="url(#gLens)" stroke="#4a90e0" stroke-width="1.3"/><rect x="357" y="11.2" width="6" height="1.7" fill="#3c84d0"/><rect x="359.15" y="9" width="1.7" height="6" fill="#3c84d0"/><line x1="392.6" y1="16.8" x2="396.6" y2="20.8" stroke="#c8a024" stroke-width="2.6" stroke-linecap="round"/><circle cx="388" cy="12" r="5.6" fill="url(#gLens)" stroke="#4a90e0" stroke-width="1.3"/><rect x="385" y="11.2" width="6" height="1.7" fill="#3c84d0"/><rect x="410" y="6" width="8" height="8" rx="0.8" fill="#4cb028"/><rect x="410" y="6" width="8" height="3" rx="0.8" fill="#2e9010"/><rect x="411" y="9.3" width="6" height="2.6" fill="#fff"/><rect x="411" y="11.6" width="1.6" height="1.2" fill="#fff"/><rect x="415.4" y="11.6" width="1.6" height="1.2" fill="#fff"/><rect x="412.2" y="10.2" width="3.6" height="0.8" fill="#4cb028" opacity="0.6"/><rect x="411.2" y="7" width="0.9" height="0.9" fill="#fff" opacity="0.85"/><rect x="418" y="6" width="8" height="8" rx="0.8" fill="#3a70e8"/><rect x="418" y="6" width="8" height="3" rx="0.8" fill="#1846c0"/><rect x="419" y="9.3" width="6" height="2.6" fill="#fff"/><rect x="419" y="11.6" width="1.6" height="1.2" fill="#fff"/><rect x="423.4" y="11.6" width="1.6" height="1.2" fill="#fff"/><rect x="420.2" y="10.2" width="3.6" height="0.8" fill="#3a70e8" opacity="0.6"/><rect x="419.2" y="7" width="0.9" height="0.9" fill="#fff" opacity="0.85"/><rect x="410" y="14" width="8" height="8" rx="0.8" fill="#3a70e8"/><rect x="410" y="14" width="8" height="3" rx="0.8" fill="#1846c0"/><rect x="411" y="17.3" width="6" height="2.6" fill="#fff"/><rect x="411" y="19.6" width="1.6" height="1.2" fill="#fff"/><rect x="415.4" y="19.6" width="1.6" height="1.2" fill="#fff"/><rect x="412.2" y="18.2" width="3.6" height="0.8" fill="#3a70e8" opacity="0.6"/><rect x="411.2" y="15" width="0.9" height="0.9" fill="#fff" opacity="0.85"/><rect x="418" y="14" width="8" height="8" rx="0.8" fill="#4cb028"/><rect x="418" y="14" width="8" height="3" rx="0.8" fill="#2e9010"/><rect x="419" y="17.3" width="6" height="2.6" fill="#fff"/><rect x="419" y="19.6" width="1.6" height="1.2" fill="#fff"/><rect x="423.4" y="19.6" width="1.6" height="1.2" fill="#fff"/><rect x="420.2" y="18.2" width="3.6" height="0.8" fill="#4cb028" opacity="0.6"/><rect x="419.2" y="15" width="0.9" height="0.9" fill="#fff" opacity="0.85"/><rect x="435" y="3" width="1" height="21" fill="#a0a0a0"/><rect x="436" y="3" width="1" height="21" fill="#fafafa"/><rect x="440" y="2" width="25" height="22" fill="url(#chk)"/><rect x="440" y="2" width="25" height="1" fill="#a0a0a0"/><rect x="440" y="2" width="1" height="22" fill="#a0a0a0"/><rect x="465" y="2" width="1" height="23" fill="#fff"/><rect x="440" y="24" width="25" height="1" fill="#fff"/><g fill="#555"><rect x="448" y="8" width="1" height="14"/><rect x="446" y="19" width="14" height="1"/><polygon points="446.8,10.2 448.5,7.6 450.2,10.2"/><polygon points="458.2,17.8 460.6,19.5 458.2,21.2"/></g><polygon points="453.4,10.3 456.7,13.5 453.4,16.7" fill="#5ce07c" stroke="#0a9a1a" stroke-width="1"/><rect x="468" y="2" width="25" height="22" fill="url(#chk)"/><rect x="468" y="2" width="25" height="1" fill="#a0a0a0"/><rect x="468" y="2" width="1" height="22" fill="#a0a0a0"/><rect x="493" y="2" width="1" height="23" fill="#fff"/><rect x="468" y="24" width="25" height="1" fill="#fff"/><g fill="#555"><rect x="476" y="8" width="1" height="14"/><rect x="474" y="19" width="14" height="1"/><polygon points="474.8,10.2 476.5,7.6 478.2,10.2"/><polygon points="486.2,17.8 488.6,19.5 486.2,21.2"/></g><rect x="482" y="8" width="1" height="10" fill="#1a5a9a"/><path d="M483.3,13.5 l3,-2.6 v1.9 h2 v1.4 h-2 v1.9z" fill="#e04808"/><rect x="497" y="3" width="1" height="21" fill="#a0a0a0"/><rect x="498" y="3" width="1" height="21" fill="#fafafa"/><path d="M508.5,6.5 h7 l3,3 v9.5 q0,1 -1,1 h-9 q-1,0 -1,-1 v-11.5 q0,-1 1,-1z" fill="#fff" stroke="#6a6a6a" stroke-width="1"/><path d="M515.5,6.5 v3 h3" fill="none" stroke="#6a6a6a" stroke-width="1"/><rect x="509.5" y="8.5" width="3" height="1.4" fill="#8a8a8a"/><rect x="509.5" y="12" width="6" height="0.9" fill="#9a9a9a"/><rect x="509.5" y="14.2" width="4" height="0.9" fill="#9a9a9a"/><path d="M515.3,12.4 h3.6 v3.8 h3.8 v3.4 h-3.8 v3.8 h-3.6 v-3.8 h-3.8 v-3.4 h3.8z" fill="url(#gGreen)" stroke="#0a8a0a" stroke-width="0.8"/><polygon points="529,13 535,13 532,16.2" fill="#000"/><circle cx="553" cy="14" r="7.1" fill="#fdfdfd" stroke="url(#gBlue2)" stroke-width="2"/><path d="M547.2,10.6 A6.8,6.8 0 0 1 558.8,10.6" fill="none" stroke="#8cc4ff" stroke-width="0.9" opacity="0.8"/><path d="M553,10 V14.2 H555.8" fill="none" stroke="#404040" stroke-width="1"/><rect x="552.6" y="8.2" width="0.8" height="0.8" fill="#88a"/><rect x="552.6" y="19.0" width="0.8" height="0.8" fill="#88a"/><rect x="547.2" y="13.6" width="0.8" height="0.8" fill="#88a"/><rect x="558.0" y="13.6" width="0.8" height="0.8" fill="#88a"/><polygon points="568,13 574,13 571,16.2" fill="#000"/><rect x="584.5" y="7.5" width="15" height="13" fill="#fff" stroke="#3a78d0" stroke-width="1"/><rect x="585" y="8" width="14" height="2" fill="#6aa4ec"/><rect x="585" y="14.6" width="14" height="1" fill="#3a78d0"/><path d="M586.5,13.4 l2,-1.2 l2,0.2 l2,-1.2 l2,0.8 l2.5,-1.2" fill="none" stroke="#b02010" stroke-width="1.1"/><path d="M587,18.6 l2,-1 l1.6,0.8 l2,-1.8 l1.6,1.6 l2,-1.4 l1.4,1.2" fill="none" stroke="#10901c" stroke-width="1.1"/><polygon points="607,13 613,13 610,16.2" fill="#000"/><rect x="618" y="1" width="1" height="25" fill="#a0a0a0"/><rect x="619" y="1" width="1" height="25" fill="#fff"/><rect x="622" y="4" width="3" height="1" fill="#a0a0a0"/><rect x="622" y="6" width="3" height="1" fill="#a0a0a0"/><rect x="622" y="8" width="3" height="1" fill="#a0a0a0"/><rect x="622" y="10" width="3" height="1" fill="#a0a0a0"/><rect x="622" y="12" width="3" height="1" fill="#a0a0a0"/><rect x="622" y="14" width="3" height="1" fill="#a0a0a0"/><rect x="622" y="16" width="3" height="1" fill="#a0a0a0"/><rect x="622" y="18" width="3" height="1" fill="#a0a0a0"/><rect x="622" y="20" width="3" height="1" fill="#a0a0a0"/><rect x="622" y="22" width="3" height="1" fill="#a0a0a0"/><rect x="628" y="2" width="25" height="22" fill="url(#chk)"/><rect x="628" y="2" width="25" height="1" fill="#a0a0a0"/><rect x="628" y="2" width="1" height="22" fill="#a0a0a0"/><rect x="653" y="2" width="1" height="23" fill="#fff"/><rect x="628" y="24" width="25" height="1" fill="#fff"/><path d="M636.4,7 L636.4,18 L639,15.6 L641.2,20.8 L643,20 L640.8,14.9 L644.4,14.6 Z" fill="#555"/><g fill="#555"><rect x="668" y="7" width="1" height="6"/><rect x="668" y="16" width="1" height="6"/><rect x="661" y="14" width="6" height="1"/><rect x="670" y="14" width="6" height="1"/><rect x="668" y="14" width="1" height="1" fill="#999"/></g><rect x="685" y="3" width="1" height="21" fill="#a0a0a0"/><rect x="686" y="3" width="1" height="21" fill="#fafafa"/><rect x="702" y="8" width="1" height="13" fill="#555"/><rect x="725" y="14" width="12" height="1" fill="#555"/><line x1="753" y1="21" x2="765" y2="9" stroke="#555" stroke-width="1.1"/><g stroke="#555" stroke-width="1" fill="none"><line x1="779" y1="16" x2="791" y2="8"/><line x1="781" y1="20" x2="793" y2="12"/><line x1="782" y1="12.5" x2="781.4" y2="19.5"/><line x1="785" y1="10.5" x2="784.4" y2="18"/><line x1="788" y1="8.5" x2="787.4" y2="16"/><line x1="791" y1="6.5" x2="790.4" y2="14"/></g><text x="790" y="23" font-size="7" font-weight="bold" fill="#444">E</text><line x1="808" y1="7.5" x2="821" y2="7.5" stroke="#555" stroke-width="1" stroke-dasharray="1 1" shape-rendering="crispEdges"/><line x1="808" y1="10.5" x2="821" y2="10.5" stroke="#555" stroke-width="1" stroke-dasharray="1 1" shape-rendering="crispEdges"/><line x1="808" y1="14.5" x2="821" y2="14.5" stroke="#555" stroke-width="1" stroke-dasharray="1 1" shape-rendering="crispEdges"/><line x1="808" y1="18.5" x2="817" y2="18.5" stroke="#555" stroke-width="1" stroke-dasharray="1 1" shape-rendering="crispEdges"/><text x="817.6" y="23" font-size="7" font-weight="bold" fill="#444">F</text><text x="838.9" y="19" font-size="12.5" fill="#606060" stroke="#606060" stroke-width="0.35">A</text><rect x="865.5" y="8.5" width="11" height="12" fill="none" stroke="#555" stroke-width="1" stroke-dasharray="1 1" shape-rendering="crispEdges"/><text x="867.2" y="19" font-size="11" font-weight="bold" fill="#5a5a5a">T</text><g fill="#505050"><polygon points="892.5,11 895.5,8 898.5,11 895.5,12.6"/><polygon points="899.5,18 902.5,16.4 905.5,18 902.5,21"/></g><path d="M894.6,15.4 l2.2,2.2 l4.4,-5.4" fill="none" stroke="#505050" stroke-width="1.3"/><polygon points="913,13 919,13 916,16.2" fill="#000"/><rect x="924" y="1" width="1" height="25" fill="#a0a0a0"/><rect x="925" y="1" width="1" height="25" fill="#fff"/><rect x="928" y="4" width="3" height="1" fill="#a0a0a0"/><rect x="928" y="6" width="3" height="1" fill="#a0a0a0"/><rect x="928" y="8" width="3" height="1" fill="#a0a0a0"/><rect x="928" y="10" width="3" height="1" fill="#a0a0a0"/><rect x="928" y="12" width="3" height="1" fill="#a0a0a0"/><rect x="928" y="14" width="3" height="1" fill="#a0a0a0"/><rect x="928" y="16" width="3" height="1" fill="#a0a0a0"/><rect x="928" y="18" width="3" height="1" fill="#a0a0a0"/><rect x="928" y="20" width="3" height="1" fill="#a0a0a0"/><rect x="928" y="22" width="3" height="1" fill="#a0a0a0"/><rect x="1074" y="2" width="25" height="22" fill="url(#chk)"/><rect x="1074" y="2" width="25" height="1" fill="#a0a0a0"/><rect x="1074" y="2" width="1" height="22" fill="#a0a0a0"/><rect x="1099" y="2" width="1" height="23" fill="#fff"/><rect x="1074" y="24" width="25" height="1" fill="#fff"/><text x="946" y="18" font-size="10" fill="#3c3c3c" text-anchor="middle" letter-spacing="-0.2">M1</text><text x="974" y="18" font-size="10" fill="#3c3c3c" text-anchor="middle" letter-spacing="-0.2">M5</text><text x="1002" y="18" font-size="10" fill="#3c3c3c" text-anchor="middle" letter-spacing="-0.2">M15</text><text x="1030" y="18" font-size="10" fill="#3c3c3c" text-anchor="middle" letter-spacing="-0.2">M30</text><text x="1058" y="18" font-size="10" fill="#3c3c3c" text-anchor="middle" letter-spacing="-0.2">H1</text><text x="1086.5" y="18" font-size="10" fill="#3c3c3c" text-anchor="middle" letter-spacing="-0.2">H4</text><text x="1114.5" y="18" font-size="10" fill="#3c3c3c" text-anchor="middle" letter-spacing="-0.2">D1</text><text x="1142.5" y="18" font-size="10" fill="#3c3c3c" text-anchor="middle" letter-spacing="-0.2">W1</text><text x="1170.5" y="18" font-size="10" fill="#3c3c3c" text-anchor="middle" letter-spacing="-0.2">MN</text><rect x="1185" y="1" width="1" height="25" fill="#a0a0a0"/><rect x="1186" y="1" width="1" height="25" fill="#fff"/><circle cx="1655.5" cy="11" r="3.6" fill="none" stroke="#2e60c8" stroke-width="1.6"/><line x1="1652.6" y1="14" x2="1647.6" y2="19" stroke="#2e60c8" stroke-width="2.2" stroke-linecap="round"/><path d="M1673,13.5 h8 q1.5,0 1.5,1.5 v4 q0,1.5 -1.5,1.5 h-3.5 l-3,2.2 v-2.2 h-1.5 q-1.5,0 -1.5,-1.5 v-4 q0,-1.5 1.5,-1.5z" fill="#f4f4f4" stroke="#a8a8a8" stroke-width="0.8"/><circle cx="1686" cy="11" r="8" fill="url(#gRed)"/><text x="1686" y="15.6" font-size="13" fill="#fff" text-anchor="middle">1</text></svg></div>
<style>
#oc{position:absolute;left:0;top:50px;width:217px;height:57px;background:#fff;color:#fff;}
#oc div{position:absolute;box-sizing:border-box;}
#oc .btn{top:0;height:24px;background:linear-gradient(#ff5656,#e33a3a);border-top:1px solid #c00000;font-size:12px;line-height:22px;text-align:center;letter-spacing:-0.6px;}
#oc .btn i{position:absolute;left:2px;right:4px;bottom:0;height:2px;background:linear-gradient(#b40000 50%,#ff7070 50%);}
#oc .px{top:24px;height:33px;background:linear-gradient(#dc2c2c,#b80606 90%,#a80000);border-right:1px solid #a00000;border-bottom:1px solid #a00000;}
#oc .sm{font-weight:bold;font-size:12px;letter-spacing:0.25px;line-height:12px;top:41.6px;}
#oc .big{font-size:33px;line-height:33px;top:22.5px;letter-spacing:-3px;}
#vol{left:52px;top:0;width:112px;height:22px;border:1px solid #a7abb3;background:#fff;}
#vol .sb{top:1px;width:19px;height:18px;background:linear-gradient(#f4f4f4,#e4e4e4 45%,#d2d2d2 55%,#cfcfcf);}
#vol .tri{width:0;height:0;border-left:3px solid transparent;border-right:3px solid transparent;left:6.5px;}
#vol .dv{top:0;width:1px;height:20px;background:#a7abb3;}
</style>
<div id="oc">
 <div class="btn" style="left:0;width:50px;border-right:1px solid #c00000;padding-right:4px">SELL<i></i></div>
 <div id="vol">
  <div class="sb" style="left:1px"><div class="tri" style="top:8px;border-top:3px solid #4a62c8"></div></div>
  <div class="dv" style="left:21px"></div>
  <div style="left:22px;top:0;width:65px;height:20px;color:#000;font-size:13px;line-height:19px;text-align:right;padding-right:1px;letter-spacing:-0.3px">1.00</div>
  <div class="dv" style="left:88px"></div>
  <div class="sb" style="left:90px"><div class="tri" style="top:7px;border-bottom:3px solid #4a62c8"></div></div>
 </div>
 <div class="btn" style="left:165px;width:52px;border-left:1px solid #c00000;padding-right:3px">BUY<i style="left:4px;right:2px"></i></div>
 <div class="px" style="left:0;width:107px"></div>
 <div class="px" style="left:109px;width:108px"></div>
 <div class="sm" style="left:14px">28741</div><div class="big" style="left:52px">.0</div>
 <div class="sm" style="left:124px">28764</div><div class="big" style="left:163px">.0</div>
</div>

</body></html>
